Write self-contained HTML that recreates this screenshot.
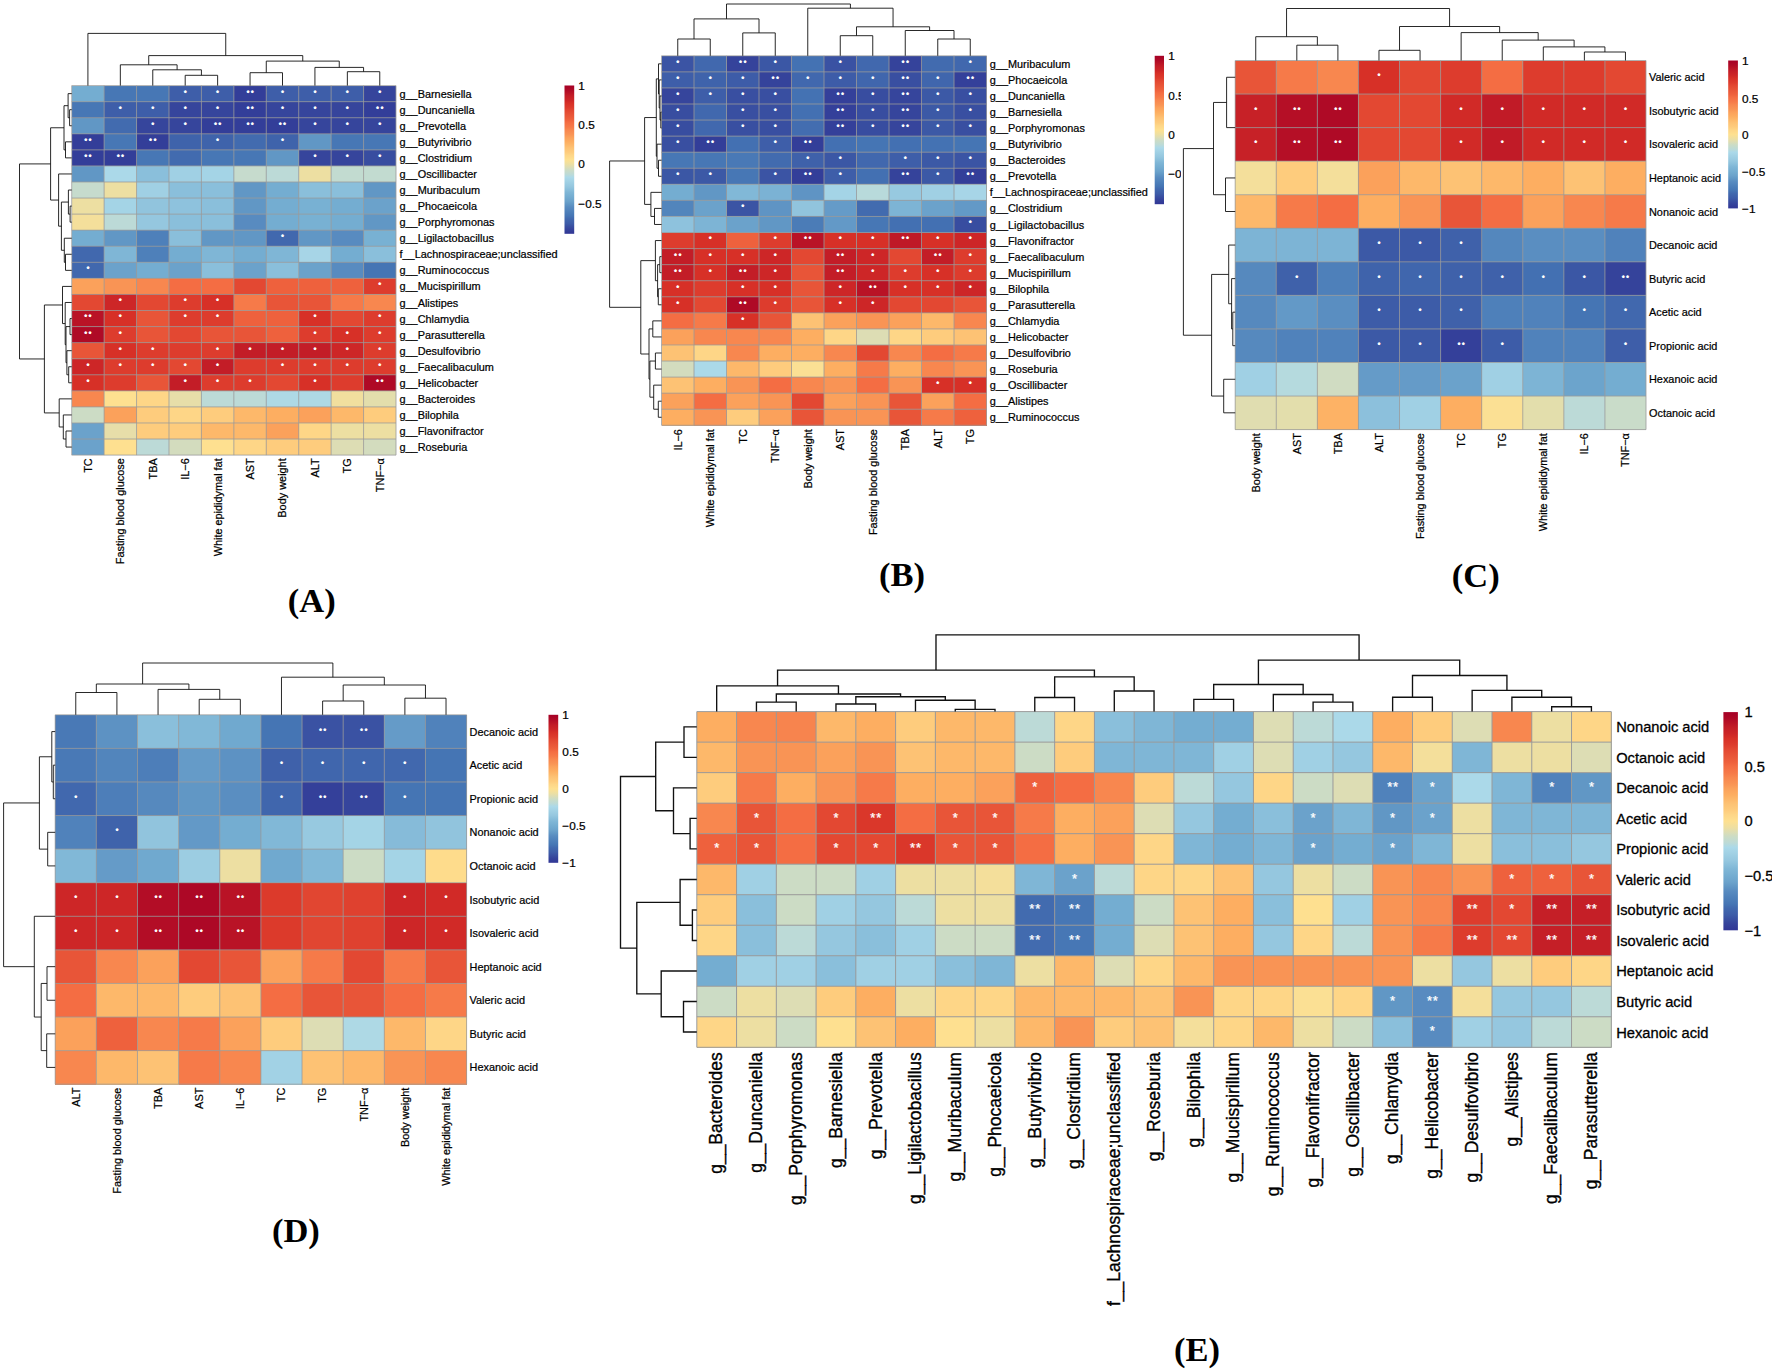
<!DOCTYPE html>
<html lang="en">
<head>
<meta charset="utf-8">
<title>Correlation heatmaps</title>
<style>
html,body{margin:0;padding:0;background:#fff;}
body{width:1772px;height:1371px;overflow:hidden;}
svg{display:block;}
</style>
</head>
<body>
<svg width="1772" height="1371" viewBox="0 0 1772 1371">
<rect width="1772" height="1371" fill="#fff"/>
<g shape-rendering="crispEdges">
<rect x="71.7" y="85.6" width="32.73" height="16.37" fill="#74add1"/>
<rect x="104.13" y="85.6" width="32.73" height="16.37" fill="#4777b5"/>
<rect x="136.56" y="85.6" width="32.73" height="16.37" fill="#4777b5"/>
<rect x="168.99" y="85.6" width="32.73" height="16.37" fill="#3e5ea9"/>
<rect x="201.42" y="85.6" width="32.73" height="16.37" fill="#3e5ea9"/>
<rect x="233.85" y="85.6" width="32.73" height="16.37" fill="#333e99"/>
<rect x="266.28" y="85.6" width="32.73" height="16.37" fill="#3e5ea9"/>
<rect x="298.71" y="85.6" width="32.73" height="16.37" fill="#3e5ea9"/>
<rect x="331.14" y="85.6" width="32.73" height="16.37" fill="#3e5ea9"/>
<rect x="363.57" y="85.6" width="32.73" height="16.37" fill="#36459c"/>
<rect x="71.7" y="101.67" width="32.73" height="16.37" fill="#4777b5"/>
<rect x="104.13" y="101.67" width="32.73" height="16.37" fill="#3e5ea9"/>
<rect x="136.56" y="101.67" width="32.73" height="16.37" fill="#3e5ea9"/>
<rect x="168.99" y="101.67" width="32.73" height="16.37" fill="#36459c"/>
<rect x="201.42" y="101.67" width="32.73" height="16.37" fill="#36459c"/>
<rect x="233.85" y="101.67" width="32.73" height="16.37" fill="#333e99"/>
<rect x="266.28" y="101.67" width="32.73" height="16.37" fill="#36459c"/>
<rect x="298.71" y="101.67" width="32.73" height="16.37" fill="#36459c"/>
<rect x="331.14" y="101.67" width="32.73" height="16.37" fill="#36459c"/>
<rect x="363.57" y="101.67" width="32.73" height="16.37" fill="#333e99"/>
<rect x="71.7" y="117.73" width="32.73" height="16.37" fill="#6197c5"/>
<rect x="104.13" y="117.73" width="32.73" height="16.37" fill="#426baf"/>
<rect x="136.56" y="117.73" width="32.73" height="16.37" fill="#36459c"/>
<rect x="168.99" y="117.73" width="32.73" height="16.37" fill="#36459c"/>
<rect x="201.42" y="117.73" width="32.73" height="16.37" fill="#333e99"/>
<rect x="233.85" y="117.73" width="32.73" height="16.37" fill="#333e99"/>
<rect x="266.28" y="117.73" width="32.73" height="16.37" fill="#333e99"/>
<rect x="298.71" y="117.73" width="32.73" height="16.37" fill="#36459c"/>
<rect x="331.14" y="117.73" width="32.73" height="16.37" fill="#36459c"/>
<rect x="363.57" y="117.73" width="32.73" height="16.37" fill="#36459c"/>
<rect x="71.7" y="133.8" width="32.73" height="16.37" fill="#333e99"/>
<rect x="104.13" y="133.8" width="32.73" height="16.37" fill="#4777b5"/>
<rect x="136.56" y="133.8" width="32.73" height="16.37" fill="#333e99"/>
<rect x="168.99" y="133.8" width="32.73" height="16.37" fill="#3f63ab"/>
<rect x="201.42" y="133.8" width="32.73" height="16.37" fill="#3f63ab"/>
<rect x="233.85" y="133.8" width="32.73" height="16.37" fill="#426baf"/>
<rect x="266.28" y="133.8" width="32.73" height="16.37" fill="#3f63ab"/>
<rect x="298.71" y="133.8" width="32.73" height="16.37" fill="#6197c5"/>
<rect x="331.14" y="133.8" width="32.73" height="16.37" fill="#4777b5"/>
<rect x="363.57" y="133.8" width="32.73" height="16.37" fill="#4777b5"/>
<rect x="71.7" y="149.86" width="32.73" height="16.37" fill="#333e99"/>
<rect x="104.13" y="149.86" width="32.73" height="16.37" fill="#333e99"/>
<rect x="136.56" y="149.86" width="32.73" height="16.37" fill="#4777b5"/>
<rect x="168.99" y="149.86" width="32.73" height="16.37" fill="#426baf"/>
<rect x="201.42" y="149.86" width="32.73" height="16.37" fill="#4777b5"/>
<rect x="233.85" y="149.86" width="32.73" height="16.37" fill="#4777b5"/>
<rect x="266.28" y="149.86" width="32.73" height="16.37" fill="#6197c5"/>
<rect x="298.71" y="149.86" width="32.73" height="16.37" fill="#36459c"/>
<rect x="331.14" y="149.86" width="32.73" height="16.37" fill="#36459c"/>
<rect x="363.57" y="149.86" width="32.73" height="16.37" fill="#384da0"/>
<rect x="71.7" y="165.93" width="32.73" height="16.37" fill="#6197c5"/>
<rect x="104.13" y="165.93" width="32.73" height="16.37" fill="#abd9e9"/>
<rect x="136.56" y="165.93" width="32.73" height="16.37" fill="#8abfdb"/>
<rect x="168.99" y="165.93" width="32.73" height="16.37" fill="#a0d0e4"/>
<rect x="201.42" y="165.93" width="32.73" height="16.37" fill="#a4d4e6"/>
<rect x="233.85" y="165.93" width="32.73" height="16.37" fill="#c6dbcd"/>
<rect x="266.28" y="165.93" width="32.73" height="16.37" fill="#bcdad7"/>
<rect x="298.71" y="165.93" width="32.73" height="16.37" fill="#eddfa2"/>
<rect x="331.14" y="165.93" width="32.73" height="16.37" fill="#c2dbd0"/>
<rect x="363.57" y="165.93" width="32.73" height="16.37" fill="#c2dbd0"/>
<rect x="71.7" y="181.99" width="32.73" height="16.37" fill="#c6dbcd"/>
<rect x="104.13" y="181.99" width="32.73" height="16.37" fill="#eddfa2"/>
<rect x="136.56" y="181.99" width="32.73" height="16.37" fill="#a0d0e4"/>
<rect x="168.99" y="181.99" width="32.73" height="16.37" fill="#8abfdb"/>
<rect x="201.42" y="181.99" width="32.73" height="16.37" fill="#8abfdb"/>
<rect x="233.85" y="181.99" width="32.73" height="16.37" fill="#6197c5"/>
<rect x="266.28" y="181.99" width="32.73" height="16.37" fill="#74add1"/>
<rect x="298.71" y="181.99" width="32.73" height="16.37" fill="#8abfdb"/>
<rect x="331.14" y="181.99" width="32.73" height="16.37" fill="#8abfdb"/>
<rect x="363.57" y="181.99" width="32.73" height="16.37" fill="#6197c5"/>
<rect x="71.7" y="198.06" width="32.73" height="16.37" fill="#eddfa2"/>
<rect x="104.13" y="198.06" width="32.73" height="16.37" fill="#a4d4e6"/>
<rect x="136.56" y="198.06" width="32.73" height="16.37" fill="#91c4dd"/>
<rect x="168.99" y="198.06" width="32.73" height="16.37" fill="#8ec2dd"/>
<rect x="201.42" y="198.06" width="32.73" height="16.37" fill="#8abfdb"/>
<rect x="233.85" y="198.06" width="32.73" height="16.37" fill="#6197c5"/>
<rect x="266.28" y="198.06" width="32.73" height="16.37" fill="#74add1"/>
<rect x="298.71" y="198.06" width="32.73" height="16.37" fill="#78b1d3"/>
<rect x="331.14" y="198.06" width="32.73" height="16.37" fill="#74add1"/>
<rect x="363.57" y="198.06" width="32.73" height="16.37" fill="#6ba2cb"/>
<rect x="71.7" y="214.12" width="32.73" height="16.37" fill="#f4df9b"/>
<rect x="104.13" y="214.12" width="32.73" height="16.37" fill="#bcdad7"/>
<rect x="136.56" y="214.12" width="32.73" height="16.37" fill="#95c7df"/>
<rect x="168.99" y="214.12" width="32.73" height="16.37" fill="#8abfdb"/>
<rect x="201.42" y="214.12" width="32.73" height="16.37" fill="#8abfdb"/>
<rect x="233.85" y="214.12" width="32.73" height="16.37" fill="#588bc0"/>
<rect x="266.28" y="214.12" width="32.73" height="16.37" fill="#74add1"/>
<rect x="298.71" y="214.12" width="32.73" height="16.37" fill="#78b1d3"/>
<rect x="331.14" y="214.12" width="32.73" height="16.37" fill="#74add1"/>
<rect x="363.57" y="214.12" width="32.73" height="16.37" fill="#6197c5"/>
<rect x="71.7" y="230.19" width="32.73" height="16.37" fill="#74add1"/>
<rect x="104.13" y="230.19" width="32.73" height="16.37" fill="#6197c5"/>
<rect x="136.56" y="230.19" width="32.73" height="16.37" fill="#4e80ba"/>
<rect x="168.99" y="230.19" width="32.73" height="16.37" fill="#8abfdb"/>
<rect x="201.42" y="230.19" width="32.73" height="16.37" fill="#6197c5"/>
<rect x="233.85" y="230.19" width="32.73" height="16.37" fill="#6197c5"/>
<rect x="266.28" y="230.19" width="32.73" height="16.37" fill="#4168ae"/>
<rect x="298.71" y="230.19" width="32.73" height="16.37" fill="#6197c5"/>
<rect x="331.14" y="230.19" width="32.73" height="16.37" fill="#588bc0"/>
<rect x="363.57" y="230.19" width="32.73" height="16.37" fill="#78b1d3"/>
<rect x="71.7" y="246.25" width="32.73" height="16.37" fill="#4168ae"/>
<rect x="104.13" y="246.25" width="32.73" height="16.37" fill="#7fb6d6"/>
<rect x="136.56" y="246.25" width="32.73" height="16.37" fill="#4e80ba"/>
<rect x="168.99" y="246.25" width="32.73" height="16.37" fill="#74add1"/>
<rect x="201.42" y="246.25" width="32.73" height="16.37" fill="#7fb6d6"/>
<rect x="233.85" y="246.25" width="32.73" height="16.37" fill="#74add1"/>
<rect x="266.28" y="246.25" width="32.73" height="16.37" fill="#7fb6d6"/>
<rect x="298.71" y="246.25" width="32.73" height="16.37" fill="#a7d5e7"/>
<rect x="331.14" y="246.25" width="32.73" height="16.37" fill="#74add1"/>
<rect x="363.57" y="246.25" width="32.73" height="16.37" fill="#8abfdb"/>
<rect x="71.7" y="262.32" width="32.73" height="16.37" fill="#4168ae"/>
<rect x="104.13" y="262.32" width="32.73" height="16.37" fill="#6ba2cb"/>
<rect x="136.56" y="262.32" width="32.73" height="16.37" fill="#74add1"/>
<rect x="168.99" y="262.32" width="32.73" height="16.37" fill="#6ba2cb"/>
<rect x="201.42" y="262.32" width="32.73" height="16.37" fill="#8abfdb"/>
<rect x="233.85" y="262.32" width="32.73" height="16.37" fill="#6ba2cb"/>
<rect x="266.28" y="262.32" width="32.73" height="16.37" fill="#8abfdb"/>
<rect x="298.71" y="262.32" width="32.73" height="16.37" fill="#6ba2cb"/>
<rect x="331.14" y="262.32" width="32.73" height="16.37" fill="#588bc0"/>
<rect x="363.57" y="262.32" width="32.73" height="16.37" fill="#4575b4"/>
<rect x="71.7" y="278.38" width="32.73" height="16.37" fill="#fba15b"/>
<rect x="104.13" y="278.38" width="32.73" height="16.37" fill="#f99455"/>
<rect x="136.56" y="278.38" width="32.73" height="16.37" fill="#f8874f"/>
<rect x="168.99" y="278.38" width="32.73" height="16.37" fill="#f46d43"/>
<rect x="201.42" y="278.38" width="32.73" height="16.37" fill="#f46d43"/>
<rect x="233.85" y="278.38" width="32.73" height="16.37" fill="#e34832"/>
<rect x="266.28" y="278.38" width="32.73" height="16.37" fill="#ee613d"/>
<rect x="298.71" y="278.38" width="32.73" height="16.37" fill="#ee613d"/>
<rect x="331.14" y="278.38" width="32.73" height="16.37" fill="#ee613d"/>
<rect x="363.57" y="278.38" width="32.73" height="16.37" fill="#dd3c2d"/>
<rect x="71.7" y="294.45" width="32.73" height="16.37" fill="#e34832"/>
<rect x="104.13" y="294.45" width="32.73" height="16.37" fill="#cd2627"/>
<rect x="136.56" y="294.45" width="32.73" height="16.37" fill="#e34832"/>
<rect x="168.99" y="294.45" width="32.73" height="16.37" fill="#dd3c2d"/>
<rect x="201.42" y="294.45" width="32.73" height="16.37" fill="#d73027"/>
<rect x="233.85" y="294.45" width="32.73" height="16.37" fill="#f67a49"/>
<rect x="266.28" y="294.45" width="32.73" height="16.37" fill="#e85538"/>
<rect x="298.71" y="294.45" width="32.73" height="16.37" fill="#e85538"/>
<rect x="331.14" y="294.45" width="32.73" height="16.37" fill="#f67a49"/>
<rect x="363.57" y="294.45" width="32.73" height="16.37" fill="#f8874f"/>
<rect x="71.7" y="310.51" width="32.73" height="16.37" fill="#b91326"/>
<rect x="104.13" y="310.51" width="32.73" height="16.37" fill="#d73027"/>
<rect x="136.56" y="310.51" width="32.73" height="16.37" fill="#e85538"/>
<rect x="168.99" y="310.51" width="32.73" height="16.37" fill="#dd3c2d"/>
<rect x="201.42" y="310.51" width="32.73" height="16.37" fill="#dd3c2d"/>
<rect x="233.85" y="310.51" width="32.73" height="16.37" fill="#ee613d"/>
<rect x="266.28" y="310.51" width="32.73" height="16.37" fill="#ee613d"/>
<rect x="298.71" y="310.51" width="32.73" height="16.37" fill="#d73027"/>
<rect x="331.14" y="310.51" width="32.73" height="16.37" fill="#e34832"/>
<rect x="363.57" y="310.51" width="32.73" height="16.37" fill="#dd3c2d"/>
<rect x="71.7" y="326.58" width="32.73" height="16.37" fill="#af0a26"/>
<rect x="104.13" y="326.58" width="32.73" height="16.37" fill="#dd3c2d"/>
<rect x="136.56" y="326.58" width="32.73" height="16.37" fill="#e85538"/>
<rect x="168.99" y="326.58" width="32.73" height="16.37" fill="#e34832"/>
<rect x="201.42" y="326.58" width="32.73" height="16.37" fill="#e85538"/>
<rect x="233.85" y="326.58" width="32.73" height="16.37" fill="#e85538"/>
<rect x="266.28" y="326.58" width="32.73" height="16.37" fill="#ee613d"/>
<rect x="298.71" y="326.58" width="32.73" height="16.37" fill="#dd3c2d"/>
<rect x="331.14" y="326.58" width="32.73" height="16.37" fill="#d73027"/>
<rect x="363.57" y="326.58" width="32.73" height="16.37" fill="#dd3c2d"/>
<rect x="71.7" y="342.64" width="32.73" height="16.37" fill="#e85538"/>
<rect x="104.13" y="342.64" width="32.73" height="16.37" fill="#d73027"/>
<rect x="136.56" y="342.64" width="32.73" height="16.37" fill="#dd3c2d"/>
<rect x="168.99" y="342.64" width="32.73" height="16.37" fill="#dd3c2d"/>
<rect x="201.42" y="342.64" width="32.73" height="16.37" fill="#dd3c2d"/>
<rect x="233.85" y="342.64" width="32.73" height="16.37" fill="#c31d27"/>
<rect x="266.28" y="342.64" width="32.73" height="16.37" fill="#c31d27"/>
<rect x="298.71" y="342.64" width="32.73" height="16.37" fill="#c31d27"/>
<rect x="331.14" y="342.64" width="32.73" height="16.37" fill="#cd2627"/>
<rect x="363.57" y="342.64" width="32.73" height="16.37" fill="#dd3c2d"/>
<rect x="71.7" y="358.71" width="32.73" height="16.37" fill="#cd2627"/>
<rect x="104.13" y="358.71" width="32.73" height="16.37" fill="#dd3c2d"/>
<rect x="136.56" y="358.71" width="32.73" height="16.37" fill="#dd3c2d"/>
<rect x="168.99" y="358.71" width="32.73" height="16.37" fill="#e34832"/>
<rect x="201.42" y="358.71" width="32.73" height="16.37" fill="#c31d27"/>
<rect x="233.85" y="358.71" width="32.73" height="16.37" fill="#dd3c2d"/>
<rect x="266.28" y="358.71" width="32.73" height="16.37" fill="#dd3c2d"/>
<rect x="298.71" y="358.71" width="32.73" height="16.37" fill="#dd3c2d"/>
<rect x="331.14" y="358.71" width="32.73" height="16.37" fill="#dd3c2d"/>
<rect x="363.57" y="358.71" width="32.73" height="16.37" fill="#dd3c2d"/>
<rect x="71.7" y="374.77" width="32.73" height="16.37" fill="#d73027"/>
<rect x="104.13" y="374.77" width="32.73" height="16.37" fill="#dd3c2d"/>
<rect x="136.56" y="374.77" width="32.73" height="16.37" fill="#e85538"/>
<rect x="168.99" y="374.77" width="32.73" height="16.37" fill="#c31d27"/>
<rect x="201.42" y="374.77" width="32.73" height="16.37" fill="#dd3c2d"/>
<rect x="233.85" y="374.77" width="32.73" height="16.37" fill="#dd3c2d"/>
<rect x="266.28" y="374.77" width="32.73" height="16.37" fill="#e34832"/>
<rect x="298.71" y="374.77" width="32.73" height="16.37" fill="#d73027"/>
<rect x="331.14" y="374.77" width="32.73" height="16.37" fill="#dd3c2d"/>
<rect x="363.57" y="374.77" width="32.73" height="16.37" fill="#af0a26"/>
<rect x="71.7" y="390.84" width="32.73" height="16.37" fill="#f8874f"/>
<rect x="104.13" y="390.84" width="32.73" height="16.37" fill="#fee090"/>
<rect x="136.56" y="390.84" width="32.73" height="16.37" fill="#fed687"/>
<rect x="168.99" y="390.84" width="32.73" height="16.37" fill="#e7dea9"/>
<rect x="201.42" y="390.84" width="32.73" height="16.37" fill="#bcdad7"/>
<rect x="233.85" y="390.84" width="32.73" height="16.37" fill="#bcdad7"/>
<rect x="266.28" y="390.84" width="32.73" height="16.37" fill="#aed9e5"/>
<rect x="298.71" y="390.84" width="32.73" height="16.37" fill="#aed9e5"/>
<rect x="331.14" y="390.84" width="32.73" height="16.37" fill="#f1df9e"/>
<rect x="363.57" y="390.84" width="32.73" height="16.37" fill="#e3deac"/>
<rect x="71.7" y="406.9" width="32.73" height="16.37" fill="#ccdcc5"/>
<rect x="104.13" y="406.9" width="32.73" height="16.37" fill="#fba15b"/>
<rect x="136.56" y="406.9" width="32.73" height="16.37" fill="#fecc7d"/>
<rect x="168.99" y="406.9" width="32.73" height="16.37" fill="#fed687"/>
<rect x="201.42" y="406.9" width="32.73" height="16.37" fill="#fecc7d"/>
<rect x="233.85" y="406.9" width="32.73" height="16.37" fill="#fdb86a"/>
<rect x="266.28" y="406.9" width="32.73" height="16.37" fill="#fdae61"/>
<rect x="298.71" y="406.9" width="32.73" height="16.37" fill="#fba15b"/>
<rect x="331.14" y="406.9" width="32.73" height="16.37" fill="#fdb86a"/>
<rect x="363.57" y="406.9" width="32.73" height="16.37" fill="#fecc7d"/>
<rect x="71.7" y="422.97" width="32.73" height="16.37" fill="#6ba2cb"/>
<rect x="104.13" y="422.97" width="32.73" height="16.37" fill="#e7dea9"/>
<rect x="136.56" y="422.97" width="32.73" height="16.37" fill="#fecc7d"/>
<rect x="168.99" y="422.97" width="32.73" height="16.37" fill="#fecc7d"/>
<rect x="201.42" y="422.97" width="32.73" height="16.37" fill="#fdb86a"/>
<rect x="233.85" y="422.97" width="32.73" height="16.37" fill="#fdb86a"/>
<rect x="266.28" y="422.97" width="32.73" height="16.37" fill="#fba15b"/>
<rect x="298.71" y="422.97" width="32.73" height="16.37" fill="#fed687"/>
<rect x="331.14" y="422.97" width="32.73" height="16.37" fill="#eddfa2"/>
<rect x="363.57" y="422.97" width="32.73" height="16.37" fill="#eddfa2"/>
<rect x="71.7" y="439.03" width="32.73" height="16.37" fill="#6ba2cb"/>
<rect x="104.13" y="439.03" width="32.73" height="16.37" fill="#fee090"/>
<rect x="136.56" y="439.03" width="32.73" height="16.37" fill="#bcdad7"/>
<rect x="168.99" y="439.03" width="32.73" height="16.37" fill="#d3dcbe"/>
<rect x="201.42" y="439.03" width="32.73" height="16.37" fill="#fee090"/>
<rect x="233.85" y="439.03" width="32.73" height="16.37" fill="#fed687"/>
<rect x="266.28" y="439.03" width="32.73" height="16.37" fill="#fecc7d"/>
<rect x="298.71" y="439.03" width="32.73" height="16.37" fill="#fecc7d"/>
<rect x="331.14" y="439.03" width="32.73" height="16.37" fill="#ddddb4"/>
<rect x="363.57" y="439.03" width="32.73" height="16.37" fill="#d3dcbe"/>
</g>
<path d="M71.7 85.6H396M71.7 101.67H396M71.7 117.73H396M71.7 133.8H396M71.7 149.86H396M71.7 165.93H396M71.7 181.99H396M71.7 198.06H396M71.7 214.12H396M71.7 230.19H396M71.7 246.25H396M71.7 262.32H396M71.7 278.38H396M71.7 294.45H396M71.7 310.51H396M71.7 326.58H396M71.7 342.64H396M71.7 358.71H396M71.7 374.77H396M71.7 390.84H396M71.7 406.9H396M71.7 422.97H396M71.7 439.03H396M71.7 455.1H396M71.7 85.6V455.1M104.13 85.6V455.1M136.56 85.6V455.1M168.99 85.6V455.1M201.42 85.6V455.1M233.85 85.6V455.1M266.28 85.6V455.1M298.71 85.6V455.1M331.14 85.6V455.1M363.57 85.6V455.1M396 85.6V455.1" fill="none" stroke="#9a9a9a" stroke-width="0.8"/>
<g fill="#fff" stroke="#fff" stroke-width="0.6" font-family='"Liberation Sans", sans-serif' font-size="6.5" letter-spacing="1.77" text-anchor="middle" stroke-linejoin="round" text-rendering="geometricPrecision">
<text x="186.09" y="94.56">*</text>
<text x="218.52" y="94.56">*</text>
<text x="250.95" y="94.56">**</text>
<text x="283.38" y="94.56">*</text>
<text x="315.81" y="94.56">*</text>
<text x="348.24" y="94.56">*</text>
<text x="380.67" y="94.56">*</text>
<text x="121.23" y="110.63">*</text>
<text x="153.66" y="110.63">*</text>
<text x="186.09" y="110.63">*</text>
<text x="218.52" y="110.63">*</text>
<text x="250.95" y="110.63">**</text>
<text x="283.38" y="110.63">*</text>
<text x="315.81" y="110.63">*</text>
<text x="348.24" y="110.63">*</text>
<text x="380.67" y="110.63">**</text>
<text x="153.66" y="126.69">*</text>
<text x="186.09" y="126.69">*</text>
<text x="218.52" y="126.69">**</text>
<text x="250.95" y="126.69">**</text>
<text x="283.38" y="126.69">**</text>
<text x="315.81" y="126.69">*</text>
<text x="348.24" y="126.69">*</text>
<text x="380.67" y="126.69">*</text>
<text x="88.8" y="142.76">**</text>
<text x="153.66" y="142.76">**</text>
<text x="218.52" y="142.76">*</text>
<text x="283.38" y="142.76">*</text>
<text x="88.8" y="158.82">**</text>
<text x="121.23" y="158.82">**</text>
<text x="315.81" y="158.82">*</text>
<text x="348.24" y="158.82">*</text>
<text x="380.67" y="158.82">*</text>
<text x="283.38" y="239.15">*</text>
<text x="88.8" y="271.28">*</text>
<text x="380.67" y="287.35">*</text>
<text x="121.23" y="303.41">*</text>
<text x="186.09" y="303.41">*</text>
<text x="218.52" y="303.41">*</text>
<text x="88.8" y="319.48">**</text>
<text x="121.23" y="319.48">*</text>
<text x="186.09" y="319.48">*</text>
<text x="218.52" y="319.48">*</text>
<text x="315.81" y="319.48">*</text>
<text x="380.67" y="319.48">*</text>
<text x="88.8" y="335.54">**</text>
<text x="121.23" y="335.54">*</text>
<text x="315.81" y="335.54">*</text>
<text x="348.24" y="335.54">*</text>
<text x="380.67" y="335.54">*</text>
<text x="121.23" y="351.61">*</text>
<text x="153.66" y="351.61">*</text>
<text x="218.52" y="351.61">*</text>
<text x="250.95" y="351.61">*</text>
<text x="283.38" y="351.61">*</text>
<text x="315.81" y="351.61">*</text>
<text x="348.24" y="351.61">*</text>
<text x="380.67" y="351.61">*</text>
<text x="88.8" y="367.67">*</text>
<text x="121.23" y="367.67">*</text>
<text x="153.66" y="367.67">*</text>
<text x="186.09" y="367.67">*</text>
<text x="218.52" y="367.67">*</text>
<text x="283.38" y="367.67">*</text>
<text x="315.81" y="367.67">*</text>
<text x="348.24" y="367.67">*</text>
<text x="380.67" y="367.67">*</text>
<text x="88.8" y="383.74">*</text>
<text x="186.09" y="383.74">*</text>
<text x="218.52" y="383.74">*</text>
<text x="250.95" y="383.74">*</text>
<text x="315.81" y="383.74">*</text>
<text x="380.67" y="383.74">**</text>
</g>
<path d="M185.2 85.6V75.3H217.63V85.6M152.78 85.6V69.8H201.42V75.3M120.34 85.6V64.8H177.1V69.8M250.06 85.6V72.7H282.5V85.6M347.35 85.6V71.7H379.78V85.6M314.93 85.6V67.4H363.57V71.7M266.28 72.7V61.1H339.25V67.4M148.72 64.8V55.6H302.76V61.1M87.92 85.6V33.4H225.74V55.6" fill="none" stroke="#111" stroke-width="0.9" stroke-linejoin="miter"/>
<path d="M71.7 109.7H69.6V125.76H71.7M71.7 93.63H68.1V117.73H69.6M71.7 141.83H65.5V157.89H71.7M68.1 105.68H64V149.86H65.5M71.7 206.09H70.1V222.15H71.7M71.7 190.02H68.4V214.12H70.1M71.7 254.28H65.5V270.35H71.7M71.7 238.22H64.3V262.32H65.5M68.4 202.07H61.4V250.27H64.3M71.7 173.96H58.6V226.17H61.4M64 127.77H50.6V200.06H58.6M71.7 318.55H70V334.61H71.7M71.7 366.74H68.7V382.81H71.7M71.7 350.68H66.9V374.77H68.7M70 326.58H66V362.73H66.9M71.7 302.48H65.2V344.65H66M71.7 286.42H62.5V323.57H65.2M71.7 431H66V447.07H71.7M71.7 414.94H63.3V439.03H66M71.7 398.87H59.2V426.99H63.3M62.5 304.99H44.4V412.93H59.2M50.6 163.92H19.5V358.96H44.4" fill="none" stroke="#111" stroke-width="0.9" stroke-linejoin="miter"/>
<g font-family='"Liberation Sans", sans-serif' font-size="10.9" fill="#000" stroke="#000" stroke-width="0.22">
<text x="399.5" y="97.69">g__Barnesiella</text>
<text x="399.5" y="113.75">g__Duncaniella</text>
<text x="399.5" y="129.82">g__Prevotella</text>
<text x="399.5" y="145.88">g__Butyrivibrio</text>
<text x="399.5" y="161.95">g__Clostridium</text>
<text x="399.5" y="178.01">g__Oscillibacter</text>
<text x="399.5" y="194.08">g__Muribaculum</text>
<text x="399.5" y="210.14">g__Phocaeicola</text>
<text x="399.5" y="226.21">g__Porphyromonas</text>
<text x="399.5" y="242.27">g__Ligilactobacillus</text>
<text x="399.5" y="258.34">f__Lachnospiraceae;unclassified</text>
<text x="399.5" y="274.4">g__Ruminococcus</text>
<text x="399.5" y="290.47">g__Mucispirillum</text>
<text x="399.5" y="306.54">g__Alistipes</text>
<text x="399.5" y="322.6">g__Chlamydia</text>
<text x="399.5" y="338.67">g__Parasutterella</text>
<text x="399.5" y="354.73">g__Desulfovibrio</text>
<text x="399.5" y="370.8">g__Faecalibaculum</text>
<text x="399.5" y="386.86">g__Helicobacter</text>
<text x="399.5" y="402.93">g__Bacteroides</text>
<text x="399.5" y="418.99">g__Bilophila</text>
<text x="399.5" y="435.06">g__Flavonifractor</text>
<text x="399.5" y="451.12">g__Roseburia</text>
</g>
<g font-family='"Liberation Sans", sans-serif' font-size="10.9" fill="#000" stroke="#000" stroke-width="0.22" text-anchor="end">
<text transform="translate(91.78 458.3) rotate(-90)">TC</text>
<text transform="translate(124.21 458.3) rotate(-90)">Fasting blood glucose</text>
<text transform="translate(156.64 458.3) rotate(-90)">TBA</text>
<text transform="translate(189.07 458.3) rotate(-90)">IL−6</text>
<text transform="translate(221.5 458.3) rotate(-90)">White epididymal fat</text>
<text transform="translate(253.93 458.3) rotate(-90)">AST</text>
<text transform="translate(286.36 458.3) rotate(-90)">Body weight</text>
<text transform="translate(318.79 458.3) rotate(-90)">ALT</text>
<text transform="translate(351.22 458.3) rotate(-90)">TG</text>
<text transform="translate(383.65 458.3) rotate(-90)">TNF−α</text>
</g>
<linearGradient id="lgA" x1="0" y1="0" x2="0" y2="1">
<stop offset="0" stop-color="#a50026"/>
<stop offset="0.03" stop-color="#af0a26"/>
<stop offset="0.05" stop-color="#b91326"/>
<stop offset="0.07" stop-color="#c31d27"/>
<stop offset="0.1" stop-color="#cd2627"/>
<stop offset="0.12" stop-color="#d73027"/>
<stop offset="0.15" stop-color="#dd3c2d"/>
<stop offset="0.17" stop-color="#e34832"/>
<stop offset="0.2" stop-color="#e85538"/>
<stop offset="0.23" stop-color="#ee613d"/>
<stop offset="0.25" stop-color="#f46d43"/>
<stop offset="0.28" stop-color="#f67a49"/>
<stop offset="0.3" stop-color="#f8874f"/>
<stop offset="0.33" stop-color="#f99455"/>
<stop offset="0.35" stop-color="#fba15b"/>
<stop offset="0.38" stop-color="#fdae61"/>
<stop offset="0.4" stop-color="#fdb86a"/>
<stop offset="0.42" stop-color="#fdc274"/>
<stop offset="0.45" stop-color="#fecc7d"/>
<stop offset="0.47" stop-color="#fed687"/>
<stop offset="0.5" stop-color="#fee090"/>
<stop offset="0.53" stop-color="#eddfa2"/>
<stop offset="0.55" stop-color="#ddddb4"/>
<stop offset="0.57" stop-color="#ccdcc5"/>
<stop offset="0.6" stop-color="#bcdad7"/>
<stop offset="0.62" stop-color="#abd9e9"/>
<stop offset="0.65" stop-color="#a0d0e4"/>
<stop offset="0.68" stop-color="#95c7df"/>
<stop offset="0.7" stop-color="#8abfdb"/>
<stop offset="0.72" stop-color="#7fb6d6"/>
<stop offset="0.75" stop-color="#74add1"/>
<stop offset="0.78" stop-color="#6ba2cb"/>
<stop offset="0.8" stop-color="#6197c5"/>
<stop offset="0.82" stop-color="#588bc0"/>
<stop offset="0.85" stop-color="#4e80ba"/>
<stop offset="0.88" stop-color="#4575b4"/>
<stop offset="0.9" stop-color="#4168ae"/>
<stop offset="0.93" stop-color="#3d5ca8"/>
<stop offset="0.95" stop-color="#394fa1"/>
<stop offset="0.97" stop-color="#35439b"/>
<stop offset="1" stop-color="#313695"/>
</linearGradient>
<rect x="564.5" y="85.5" width="9.7" height="148.3" fill="url(#lgA)"/>
<g font-family='"Liberation Sans", sans-serif' font-size="11.8" fill="#000" stroke="#000" stroke-width="0.24">
<text x="578.34" y="89.99">1</text>
<text x="578.34" y="129.09">0.5</text>
<text x="578.34" y="168.39">0</text>
<text x="578.34" y="207.79">−0.5</text>
</g>
<text x="311.8" y="612.4" font-family='"Liberation Serif", serif' font-weight="bold" font-size="34.5" text-anchor="middle" fill="#000">(A)</text>
<g shape-rendering="crispEdges">
<rect x="661.5" y="55.8" width="32.8" height="16.37" fill="#3b54a4"/>
<rect x="694" y="55.8" width="32.8" height="16.37" fill="#4168ae"/>
<rect x="726.5" y="55.8" width="32.8" height="16.37" fill="#35439b"/>
<rect x="759" y="55.8" width="32.8" height="16.37" fill="#3b57a5"/>
<rect x="791.5" y="55.8" width="32.8" height="16.37" fill="#4472b3"/>
<rect x="824" y="55.8" width="32.8" height="16.37" fill="#3a52a3"/>
<rect x="856.5" y="55.8" width="32.8" height="16.37" fill="#4168ae"/>
<rect x="889" y="55.8" width="32.8" height="16.37" fill="#35439b"/>
<rect x="921.5" y="55.8" width="32.8" height="16.37" fill="#426baf"/>
<rect x="954" y="55.8" width="32.8" height="16.37" fill="#4168ae"/>
<rect x="661.5" y="71.87" width="32.8" height="16.37" fill="#3e5ea9"/>
<rect x="694" y="71.87" width="32.8" height="16.37" fill="#3f63ab"/>
<rect x="726.5" y="71.87" width="32.8" height="16.37" fill="#3d5ca8"/>
<rect x="759" y="71.87" width="32.8" height="16.37" fill="#35439b"/>
<rect x="791.5" y="71.87" width="32.8" height="16.37" fill="#4168ae"/>
<rect x="824" y="71.87" width="32.8" height="16.37" fill="#3d5ca8"/>
<rect x="856.5" y="71.87" width="32.8" height="16.37" fill="#4066ad"/>
<rect x="889" y="71.87" width="32.8" height="16.37" fill="#394fa1"/>
<rect x="921.5" y="71.87" width="32.8" height="16.37" fill="#4066ad"/>
<rect x="954" y="71.87" width="32.8" height="16.37" fill="#34409a"/>
<rect x="661.5" y="87.93" width="32.8" height="16.37" fill="#36459c"/>
<rect x="694" y="87.93" width="32.8" height="16.37" fill="#3e5ea9"/>
<rect x="726.5" y="87.93" width="32.8" height="16.37" fill="#394fa1"/>
<rect x="759" y="87.93" width="32.8" height="16.37" fill="#394fa1"/>
<rect x="791.5" y="87.93" width="32.8" height="16.37" fill="#4472b3"/>
<rect x="824" y="87.93" width="32.8" height="16.37" fill="#34409a"/>
<rect x="856.5" y="87.93" width="32.8" height="16.37" fill="#384da0"/>
<rect x="889" y="87.93" width="32.8" height="16.37" fill="#36459c"/>
<rect x="921.5" y="87.93" width="32.8" height="16.37" fill="#3c59a6"/>
<rect x="954" y="87.93" width="32.8" height="16.37" fill="#394fa1"/>
<rect x="661.5" y="104" width="32.8" height="16.37" fill="#384da0"/>
<rect x="694" y="104" width="32.8" height="16.37" fill="#4168ae"/>
<rect x="726.5" y="104" width="32.8" height="16.37" fill="#394fa1"/>
<rect x="759" y="104" width="32.8" height="16.37" fill="#394fa1"/>
<rect x="791.5" y="104" width="32.8" height="16.37" fill="#4370b2"/>
<rect x="824" y="104" width="32.8" height="16.37" fill="#34409a"/>
<rect x="856.5" y="104" width="32.8" height="16.37" fill="#384da0"/>
<rect x="889" y="104" width="32.8" height="16.37" fill="#36459c"/>
<rect x="921.5" y="104" width="32.8" height="16.37" fill="#3c59a6"/>
<rect x="954" y="104" width="32.8" height="16.37" fill="#394fa1"/>
<rect x="661.5" y="120.06" width="32.8" height="16.37" fill="#384da0"/>
<rect x="694" y="120.06" width="32.8" height="16.37" fill="#4168ae"/>
<rect x="726.5" y="120.06" width="32.8" height="16.37" fill="#394fa1"/>
<rect x="759" y="120.06" width="32.8" height="16.37" fill="#394fa1"/>
<rect x="791.5" y="120.06" width="32.8" height="16.37" fill="#436db0"/>
<rect x="824" y="120.06" width="32.8" height="16.37" fill="#34409a"/>
<rect x="856.5" y="120.06" width="32.8" height="16.37" fill="#384da0"/>
<rect x="889" y="120.06" width="32.8" height="16.37" fill="#36459c"/>
<rect x="921.5" y="120.06" width="32.8" height="16.37" fill="#3c59a6"/>
<rect x="954" y="120.06" width="32.8" height="16.37" fill="#394fa1"/>
<rect x="661.5" y="136.13" width="32.8" height="16.37" fill="#394fa1"/>
<rect x="694" y="136.13" width="32.8" height="16.37" fill="#333e99"/>
<rect x="726.5" y="136.13" width="32.8" height="16.37" fill="#4370b2"/>
<rect x="759" y="136.13" width="32.8" height="16.37" fill="#3e5ea9"/>
<rect x="791.5" y="136.13" width="32.8" height="16.37" fill="#333e99"/>
<rect x="824" y="136.13" width="32.8" height="16.37" fill="#4370b2"/>
<rect x="856.5" y="136.13" width="32.8" height="16.37" fill="#4575b4"/>
<rect x="889" y="136.13" width="32.8" height="16.37" fill="#4370b2"/>
<rect x="921.5" y="136.13" width="32.8" height="16.37" fill="#4472b3"/>
<rect x="954" y="136.13" width="32.8" height="16.37" fill="#4575b4"/>
<rect x="661.5" y="152.19" width="32.8" height="16.37" fill="#4777b5"/>
<rect x="694" y="152.19" width="32.8" height="16.37" fill="#4777b5"/>
<rect x="726.5" y="152.19" width="32.8" height="16.37" fill="#4979b6"/>
<rect x="759" y="152.19" width="32.8" height="16.37" fill="#426baf"/>
<rect x="791.5" y="152.19" width="32.8" height="16.37" fill="#3f61aa"/>
<rect x="824" y="152.19" width="32.8" height="16.37" fill="#3b57a5"/>
<rect x="856.5" y="152.19" width="32.8" height="16.37" fill="#4168ae"/>
<rect x="889" y="152.19" width="32.8" height="16.37" fill="#3e5ea9"/>
<rect x="921.5" y="152.19" width="32.8" height="16.37" fill="#3c59a6"/>
<rect x="954" y="152.19" width="32.8" height="16.37" fill="#3b54a4"/>
<rect x="661.5" y="168.26" width="32.8" height="16.37" fill="#3b57a5"/>
<rect x="694" y="168.26" width="32.8" height="16.37" fill="#3c59a6"/>
<rect x="726.5" y="168.26" width="32.8" height="16.37" fill="#4777b5"/>
<rect x="759" y="168.26" width="32.8" height="16.37" fill="#3b54a4"/>
<rect x="791.5" y="168.26" width="32.8" height="16.37" fill="#333e99"/>
<rect x="824" y="168.26" width="32.8" height="16.37" fill="#3e5ea9"/>
<rect x="856.5" y="168.26" width="32.8" height="16.37" fill="#4370b2"/>
<rect x="889" y="168.26" width="32.8" height="16.37" fill="#35439b"/>
<rect x="921.5" y="168.26" width="32.8" height="16.37" fill="#3c59a6"/>
<rect x="954" y="168.26" width="32.8" height="16.37" fill="#333e99"/>
<rect x="661.5" y="184.32" width="32.8" height="16.37" fill="#74add1"/>
<rect x="694" y="184.32" width="32.8" height="16.37" fill="#6197c5"/>
<rect x="726.5" y="184.32" width="32.8" height="16.37" fill="#81b8d7"/>
<rect x="759" y="184.32" width="32.8" height="16.37" fill="#7bb2d4"/>
<rect x="791.5" y="184.32" width="32.8" height="16.37" fill="#5f94c4"/>
<rect x="824" y="184.32" width="32.8" height="16.37" fill="#a4d4e6"/>
<rect x="856.5" y="184.32" width="32.8" height="16.37" fill="#b8dadb"/>
<rect x="889" y="184.32" width="32.8" height="16.37" fill="#97c9e0"/>
<rect x="921.5" y="184.32" width="32.8" height="16.37" fill="#a0d0e4"/>
<rect x="954" y="184.32" width="32.8" height="16.37" fill="#a7d5e7"/>
<rect x="661.5" y="200.39" width="32.8" height="16.37" fill="#5285bc"/>
<rect x="694" y="200.39" width="32.8" height="16.37" fill="#6ba2cb"/>
<rect x="726.5" y="200.39" width="32.8" height="16.37" fill="#3b54a4"/>
<rect x="759" y="200.39" width="32.8" height="16.37" fill="#5f94c4"/>
<rect x="791.5" y="200.39" width="32.8" height="16.37" fill="#91c4dd"/>
<rect x="824" y="200.39" width="32.8" height="16.37" fill="#659bc8"/>
<rect x="856.5" y="200.39" width="32.8" height="16.37" fill="#426baf"/>
<rect x="889" y="200.39" width="32.8" height="16.37" fill="#7db4d5"/>
<rect x="921.5" y="200.39" width="32.8" height="16.37" fill="#6ba2cb"/>
<rect x="954" y="200.39" width="32.8" height="16.37" fill="#6399c7"/>
<rect x="661.5" y="216.45" width="32.8" height="16.37" fill="#8ec2dd"/>
<rect x="694" y="216.45" width="32.8" height="16.37" fill="#7db4d5"/>
<rect x="726.5" y="216.45" width="32.8" height="16.37" fill="#6ba2cb"/>
<rect x="759" y="216.45" width="32.8" height="16.37" fill="#6197c5"/>
<rect x="791.5" y="216.45" width="32.8" height="16.37" fill="#4b7cb7"/>
<rect x="824" y="216.45" width="32.8" height="16.37" fill="#6399c7"/>
<rect x="856.5" y="216.45" width="32.8" height="16.37" fill="#4777b5"/>
<rect x="889" y="216.45" width="32.8" height="16.37" fill="#4370b2"/>
<rect x="921.5" y="216.45" width="32.8" height="16.37" fill="#4370b2"/>
<rect x="954" y="216.45" width="32.8" height="16.37" fill="#384da0"/>
<rect x="661.5" y="232.52" width="32.8" height="16.37" fill="#dd3c2d"/>
<rect x="694" y="232.52" width="32.8" height="16.37" fill="#d73027"/>
<rect x="726.5" y="232.52" width="32.8" height="16.37" fill="#ee613d"/>
<rect x="759" y="232.52" width="32.8" height="16.37" fill="#dd3c2d"/>
<rect x="791.5" y="232.52" width="32.8" height="16.37" fill="#b91326"/>
<rect x="824" y="232.52" width="32.8" height="16.37" fill="#d73027"/>
<rect x="856.5" y="232.52" width="32.8" height="16.37" fill="#d73027"/>
<rect x="889" y="232.52" width="32.8" height="16.37" fill="#bf1927"/>
<rect x="921.5" y="232.52" width="32.8" height="16.37" fill="#d73027"/>
<rect x="954" y="232.52" width="32.8" height="16.37" fill="#cd2627"/>
<rect x="661.5" y="248.58" width="32.8" height="16.37" fill="#c31d27"/>
<rect x="694" y="248.58" width="32.8" height="16.37" fill="#d73027"/>
<rect x="726.5" y="248.58" width="32.8" height="16.37" fill="#d73027"/>
<rect x="759" y="248.58" width="32.8" height="16.37" fill="#cd2627"/>
<rect x="791.5" y="248.58" width="32.8" height="16.37" fill="#e34832"/>
<rect x="824" y="248.58" width="32.8" height="16.37" fill="#c31d27"/>
<rect x="856.5" y="248.58" width="32.8" height="16.37" fill="#cd2627"/>
<rect x="889" y="248.58" width="32.8" height="16.37" fill="#e34832"/>
<rect x="921.5" y="248.58" width="32.8" height="16.37" fill="#c31d27"/>
<rect x="954" y="248.58" width="32.8" height="16.37" fill="#dd3c2d"/>
<rect x="661.5" y="264.65" width="32.8" height="16.37" fill="#c31d27"/>
<rect x="694" y="264.65" width="32.8" height="16.37" fill="#d73027"/>
<rect x="726.5" y="264.65" width="32.8" height="16.37" fill="#c31d27"/>
<rect x="759" y="264.65" width="32.8" height="16.37" fill="#cd2627"/>
<rect x="791.5" y="264.65" width="32.8" height="16.37" fill="#e85538"/>
<rect x="824" y="264.65" width="32.8" height="16.37" fill="#c31d27"/>
<rect x="856.5" y="264.65" width="32.8" height="16.37" fill="#cd2627"/>
<rect x="889" y="264.65" width="32.8" height="16.37" fill="#dd3c2d"/>
<rect x="921.5" y="264.65" width="32.8" height="16.37" fill="#d73027"/>
<rect x="954" y="264.65" width="32.8" height="16.37" fill="#dd3c2d"/>
<rect x="661.5" y="280.71" width="32.8" height="16.37" fill="#d73027"/>
<rect x="694" y="280.71" width="32.8" height="16.37" fill="#dd3c2d"/>
<rect x="726.5" y="280.71" width="32.8" height="16.37" fill="#d73027"/>
<rect x="759" y="280.71" width="32.8" height="16.37" fill="#d73027"/>
<rect x="791.5" y="280.71" width="32.8" height="16.37" fill="#e85538"/>
<rect x="824" y="280.71" width="32.8" height="16.37" fill="#cd2627"/>
<rect x="856.5" y="280.71" width="32.8" height="16.37" fill="#b91326"/>
<rect x="889" y="280.71" width="32.8" height="16.37" fill="#d73027"/>
<rect x="921.5" y="280.71" width="32.8" height="16.37" fill="#d73027"/>
<rect x="954" y="280.71" width="32.8" height="16.37" fill="#cd2627"/>
<rect x="661.5" y="296.78" width="32.8" height="16.37" fill="#d73027"/>
<rect x="694" y="296.78" width="32.8" height="16.37" fill="#e34832"/>
<rect x="726.5" y="296.78" width="32.8" height="16.37" fill="#af0a26"/>
<rect x="759" y="296.78" width="32.8" height="16.37" fill="#dd3c2d"/>
<rect x="791.5" y="296.78" width="32.8" height="16.37" fill="#e85538"/>
<rect x="824" y="296.78" width="32.8" height="16.37" fill="#d73027"/>
<rect x="856.5" y="296.78" width="32.8" height="16.37" fill="#cd2627"/>
<rect x="889" y="296.78" width="32.8" height="16.37" fill="#e34832"/>
<rect x="921.5" y="296.78" width="32.8" height="16.37" fill="#e34832"/>
<rect x="954" y="296.78" width="32.8" height="16.37" fill="#e85538"/>
<rect x="661.5" y="312.84" width="32.8" height="16.37" fill="#f46d43"/>
<rect x="694" y="312.84" width="32.8" height="16.37" fill="#f67a49"/>
<rect x="726.5" y="312.84" width="32.8" height="16.37" fill="#d73027"/>
<rect x="759" y="312.84" width="32.8" height="16.37" fill="#e85538"/>
<rect x="791.5" y="312.84" width="32.8" height="16.37" fill="#fdc274"/>
<rect x="824" y="312.84" width="32.8" height="16.37" fill="#fba15b"/>
<rect x="856.5" y="312.84" width="32.8" height="16.37" fill="#f99455"/>
<rect x="889" y="312.84" width="32.8" height="16.37" fill="#fba15b"/>
<rect x="921.5" y="312.84" width="32.8" height="16.37" fill="#fdb86a"/>
<rect x="954" y="312.84" width="32.8" height="16.37" fill="#f8874f"/>
<rect x="661.5" y="328.91" width="32.8" height="16.37" fill="#fba15b"/>
<rect x="694" y="328.91" width="32.8" height="16.37" fill="#f8874f"/>
<rect x="726.5" y="328.91" width="32.8" height="16.37" fill="#f8874f"/>
<rect x="759" y="328.91" width="32.8" height="16.37" fill="#f8874f"/>
<rect x="791.5" y="328.91" width="32.8" height="16.37" fill="#fdae61"/>
<rect x="824" y="328.91" width="32.8" height="16.37" fill="#fed687"/>
<rect x="856.5" y="328.91" width="32.8" height="16.37" fill="#ddddb4"/>
<rect x="889" y="328.91" width="32.8" height="16.37" fill="#fed687"/>
<rect x="921.5" y="328.91" width="32.8" height="16.37" fill="#fecc7d"/>
<rect x="954" y="328.91" width="32.8" height="16.37" fill="#fdc274"/>
<rect x="661.5" y="344.97" width="32.8" height="16.37" fill="#fdc274"/>
<rect x="694" y="344.97" width="32.8" height="16.37" fill="#fed687"/>
<rect x="726.5" y="344.97" width="32.8" height="16.37" fill="#f8874f"/>
<rect x="759" y="344.97" width="32.8" height="16.37" fill="#fdae61"/>
<rect x="791.5" y="344.97" width="32.8" height="16.37" fill="#fdae61"/>
<rect x="824" y="344.97" width="32.8" height="16.37" fill="#f8874f"/>
<rect x="856.5" y="344.97" width="32.8" height="16.37" fill="#e34832"/>
<rect x="889" y="344.97" width="32.8" height="16.37" fill="#f8874f"/>
<rect x="921.5" y="344.97" width="32.8" height="16.37" fill="#f46d43"/>
<rect x="954" y="344.97" width="32.8" height="16.37" fill="#f67a49"/>
<rect x="661.5" y="361.04" width="32.8" height="16.37" fill="#d3dcbe"/>
<rect x="694" y="361.04" width="32.8" height="16.37" fill="#abd9e9"/>
<rect x="726.5" y="361.04" width="32.8" height="16.37" fill="#fdb86a"/>
<rect x="759" y="361.04" width="32.8" height="16.37" fill="#fecc7d"/>
<rect x="791.5" y="361.04" width="32.8" height="16.37" fill="#fbe094"/>
<rect x="824" y="361.04" width="32.8" height="16.37" fill="#fdae61"/>
<rect x="856.5" y="361.04" width="32.8" height="16.37" fill="#f67a49"/>
<rect x="889" y="361.04" width="32.8" height="16.37" fill="#fdae61"/>
<rect x="921.5" y="361.04" width="32.8" height="16.37" fill="#f8874f"/>
<rect x="954" y="361.04" width="32.8" height="16.37" fill="#f99455"/>
<rect x="661.5" y="377.1" width="32.8" height="16.37" fill="#fdc274"/>
<rect x="694" y="377.1" width="32.8" height="16.37" fill="#fdae61"/>
<rect x="726.5" y="377.1" width="32.8" height="16.37" fill="#f99455"/>
<rect x="759" y="377.1" width="32.8" height="16.37" fill="#f46d43"/>
<rect x="791.5" y="377.1" width="32.8" height="16.37" fill="#f8874f"/>
<rect x="824" y="377.1" width="32.8" height="16.37" fill="#f99455"/>
<rect x="856.5" y="377.1" width="32.8" height="16.37" fill="#f46d43"/>
<rect x="889" y="377.1" width="32.8" height="16.37" fill="#f99455"/>
<rect x="921.5" y="377.1" width="32.8" height="16.37" fill="#d73027"/>
<rect x="954" y="377.1" width="32.8" height="16.37" fill="#d73027"/>
<rect x="661.5" y="393.17" width="32.8" height="16.37" fill="#fba15b"/>
<rect x="694" y="393.17" width="32.8" height="16.37" fill="#f46d43"/>
<rect x="726.5" y="393.17" width="32.8" height="16.37" fill="#fba15b"/>
<rect x="759" y="393.17" width="32.8" height="16.37" fill="#f99455"/>
<rect x="791.5" y="393.17" width="32.8" height="16.37" fill="#e34832"/>
<rect x="824" y="393.17" width="32.8" height="16.37" fill="#fba15b"/>
<rect x="856.5" y="393.17" width="32.8" height="16.37" fill="#f99455"/>
<rect x="889" y="393.17" width="32.8" height="16.37" fill="#e85538"/>
<rect x="921.5" y="393.17" width="32.8" height="16.37" fill="#fba15b"/>
<rect x="954" y="393.17" width="32.8" height="16.37" fill="#f46d43"/>
<rect x="661.5" y="409.23" width="32.8" height="16.37" fill="#fdae61"/>
<rect x="694" y="409.23" width="32.8" height="16.37" fill="#f99455"/>
<rect x="726.5" y="409.23" width="32.8" height="16.37" fill="#fecc7d"/>
<rect x="759" y="409.23" width="32.8" height="16.37" fill="#fba15b"/>
<rect x="791.5" y="409.23" width="32.8" height="16.37" fill="#e85538"/>
<rect x="824" y="409.23" width="32.8" height="16.37" fill="#f99455"/>
<rect x="856.5" y="409.23" width="32.8" height="16.37" fill="#f99455"/>
<rect x="889" y="409.23" width="32.8" height="16.37" fill="#e85538"/>
<rect x="921.5" y="409.23" width="32.8" height="16.37" fill="#f67a49"/>
<rect x="954" y="409.23" width="32.8" height="16.37" fill="#ee613d"/>
</g>
<path d="M661.5 55.8H986.5M661.5 71.87H986.5M661.5 87.93H986.5M661.5 104H986.5M661.5 120.06H986.5M661.5 136.13H986.5M661.5 152.19H986.5M661.5 168.26H986.5M661.5 184.32H986.5M661.5 200.39H986.5M661.5 216.45H986.5M661.5 232.52H986.5M661.5 248.58H986.5M661.5 264.65H986.5M661.5 280.71H986.5M661.5 296.78H986.5M661.5 312.84H986.5M661.5 328.91H986.5M661.5 344.97H986.5M661.5 361.04H986.5M661.5 377.1H986.5M661.5 393.17H986.5M661.5 409.23H986.5M661.5 425.3H986.5M661.5 55.8V425.3M694 55.8V425.3M726.5 55.8V425.3M759 55.8V425.3M791.5 55.8V425.3M824 55.8V425.3M856.5 55.8V425.3M889 55.8V425.3M921.5 55.8V425.3M954 55.8V425.3M986.5 55.8V425.3" fill="none" stroke="#9a9a9a" stroke-width="0.8"/>
<g fill="#fff" stroke="#fff" stroke-width="0.6" font-family='"Liberation Sans", sans-serif' font-size="6.5" letter-spacing="1.77" text-anchor="middle" stroke-linejoin="round" text-rendering="geometricPrecision">
<text x="678.64" y="64.76">*</text>
<text x="743.64" y="64.76">**</text>
<text x="776.14" y="64.76">*</text>
<text x="841.14" y="64.76">*</text>
<text x="906.14" y="64.76">**</text>
<text x="971.14" y="64.76">*</text>
<text x="678.64" y="80.83">*</text>
<text x="711.14" y="80.83">*</text>
<text x="743.64" y="80.83">*</text>
<text x="776.14" y="80.83">**</text>
<text x="808.64" y="80.83">*</text>
<text x="841.14" y="80.83">*</text>
<text x="873.64" y="80.83">*</text>
<text x="906.14" y="80.83">**</text>
<text x="938.64" y="80.83">*</text>
<text x="971.14" y="80.83">**</text>
<text x="678.64" y="96.89">*</text>
<text x="711.14" y="96.89">*</text>
<text x="743.64" y="96.89">*</text>
<text x="776.14" y="96.89">*</text>
<text x="841.14" y="96.89">**</text>
<text x="873.64" y="96.89">*</text>
<text x="906.14" y="96.89">**</text>
<text x="938.64" y="96.89">*</text>
<text x="971.14" y="96.89">*</text>
<text x="678.64" y="112.96">*</text>
<text x="743.64" y="112.96">*</text>
<text x="776.14" y="112.96">*</text>
<text x="841.14" y="112.96">**</text>
<text x="873.64" y="112.96">*</text>
<text x="906.14" y="112.96">**</text>
<text x="938.64" y="112.96">*</text>
<text x="971.14" y="112.96">*</text>
<text x="678.64" y="129.02">*</text>
<text x="743.64" y="129.02">*</text>
<text x="776.14" y="129.02">*</text>
<text x="841.14" y="129.02">**</text>
<text x="873.64" y="129.02">*</text>
<text x="906.14" y="129.02">**</text>
<text x="938.64" y="129.02">*</text>
<text x="971.14" y="129.02">*</text>
<text x="678.64" y="145.09">*</text>
<text x="711.14" y="145.09">**</text>
<text x="776.14" y="145.09">*</text>
<text x="808.64" y="145.09">**</text>
<text x="808.64" y="161.16">*</text>
<text x="841.14" y="161.16">*</text>
<text x="906.14" y="161.16">*</text>
<text x="938.64" y="161.16">*</text>
<text x="971.14" y="161.16">*</text>
<text x="678.64" y="177.22">*</text>
<text x="711.14" y="177.22">*</text>
<text x="776.14" y="177.22">*</text>
<text x="808.64" y="177.22">**</text>
<text x="841.14" y="177.22">*</text>
<text x="906.14" y="177.22">**</text>
<text x="938.64" y="177.22">*</text>
<text x="971.14" y="177.22">**</text>
<text x="743.64" y="209.35">*</text>
<text x="971.14" y="225.42">*</text>
<text x="711.14" y="241.48">*</text>
<text x="776.14" y="241.48">*</text>
<text x="808.64" y="241.48">**</text>
<text x="841.14" y="241.48">*</text>
<text x="873.64" y="241.48">*</text>
<text x="906.14" y="241.48">**</text>
<text x="938.64" y="241.48">*</text>
<text x="971.14" y="241.48">*</text>
<text x="678.64" y="257.55">**</text>
<text x="711.14" y="257.55">*</text>
<text x="743.64" y="257.55">*</text>
<text x="776.14" y="257.55">*</text>
<text x="841.14" y="257.55">**</text>
<text x="873.64" y="257.55">*</text>
<text x="938.64" y="257.55">**</text>
<text x="971.14" y="257.55">*</text>
<text x="678.64" y="273.61">**</text>
<text x="711.14" y="273.61">*</text>
<text x="743.64" y="273.61">**</text>
<text x="776.14" y="273.61">*</text>
<text x="841.14" y="273.61">**</text>
<text x="873.64" y="273.61">*</text>
<text x="906.14" y="273.61">*</text>
<text x="938.64" y="273.61">*</text>
<text x="971.14" y="273.61">*</text>
<text x="678.64" y="289.68">*</text>
<text x="743.64" y="289.68">*</text>
<text x="776.14" y="289.68">*</text>
<text x="841.14" y="289.68">*</text>
<text x="873.64" y="289.68">**</text>
<text x="906.14" y="289.68">*</text>
<text x="938.64" y="289.68">*</text>
<text x="971.14" y="289.68">*</text>
<text x="678.64" y="305.74">*</text>
<text x="743.64" y="305.74">**</text>
<text x="776.14" y="305.74">*</text>
<text x="841.14" y="305.74">*</text>
<text x="873.64" y="305.74">*</text>
<text x="743.64" y="321.81">*</text>
<text x="938.64" y="386.07">*</text>
<text x="971.14" y="386.07">*</text>
</g>
<path d="M677.75 55.8V39H710.25V55.8M742.75 55.8V32.9H775.25V55.8M694 39V18.9H759V32.9M840.25 55.8V35.7H872.75V55.8M937.75 55.8V39H970.25V55.8M905.25 55.8V30.5H954V39M856.5 35.7V26.8H929.62V30.5M807.75 55.8V8.2H893.06V26.8M726.5 18.9V4H850.41V8.2" fill="none" stroke="#111" stroke-width="0.9" stroke-linejoin="miter"/>
<path d="M661.5 112.03H660.8V128.09H661.5M661.5 95.96H660V120.06H660.8M661.5 79.9H659.2V108.01H660M661.5 63.83H658.5V93.95H659.2M661.5 160.22H658.5V176.29H661.5M661.5 144.16H657V168.26H658.5M658.5 78.89H656.3V156.21H657M661.5 208.42H654.5V224.48H661.5M661.5 192.35H650.9V216.45H654.5M656.3 117.55H644.6V204.4H650.9M661.5 256.62H659.8V272.68H661.5M661.5 288.75H658.3V304.81H661.5M659.8 264.65H657.6V296.78H658.3M661.5 240.55H655.4V280.71H657.6M661.5 320.88H652.8V336.94H661.5M661.5 353.01H655.4V369.07H661.5M661.5 401.2H658.3V417.27H661.5M661.5 385.14H653.7V409.23H658.3M655.4 361.04H649.9V397.19H653.7M652.8 328.91H649V379.11H649.9M655.4 260.63H640.8V354.01H649M644.6 160.98H609.6V307.32H640.8" fill="none" stroke="#111" stroke-width="0.9" stroke-linejoin="miter"/>
<g font-family='"Liberation Sans", sans-serif' font-size="10.9" fill="#000" stroke="#000" stroke-width="0.22">
<text x="989.8" y="67.89">g__Muribaculum</text>
<text x="989.8" y="83.95">g__Phocaeicola</text>
<text x="989.8" y="100.02">g__Duncaniella</text>
<text x="989.8" y="116.08">g__Barnesiella</text>
<text x="989.8" y="132.15">g__Porphyromonas</text>
<text x="989.8" y="148.21">g__Butyrivibrio</text>
<text x="989.8" y="164.28">g__Bacteroides</text>
<text x="989.8" y="180.34">g__Prevotella</text>
<text x="989.8" y="196.41">f__Lachnospiraceae;unclassified</text>
<text x="989.8" y="212.47">g__Clostridium</text>
<text x="989.8" y="228.54">g__Ligilactobacillus</text>
<text x="989.8" y="244.6">g__Flavonifractor</text>
<text x="989.8" y="260.67">g__Faecalibaculum</text>
<text x="989.8" y="276.74">g__Mucispirillum</text>
<text x="989.8" y="292.8">g__Bilophila</text>
<text x="989.8" y="308.87">g__Parasutterella</text>
<text x="989.8" y="324.93">g__Chlamydia</text>
<text x="989.8" y="341">g__Helicobacter</text>
<text x="989.8" y="357.06">g__Desulfovibrio</text>
<text x="989.8" y="373.13">g__Roseburia</text>
<text x="989.8" y="389.19">g__Oscillibacter</text>
<text x="989.8" y="405.26">g__Alistipes</text>
<text x="989.8" y="421.32">g__Ruminococcus</text>
</g>
<g font-family='"Liberation Sans", sans-serif' font-size="10.9" fill="#000" stroke="#000" stroke-width="0.22" text-anchor="end">
<text transform="translate(681.62 429.1) rotate(-90)">IL−6</text>
<text transform="translate(714.12 429.1) rotate(-90)">White epididymal fat</text>
<text transform="translate(746.62 429.1) rotate(-90)">TC</text>
<text transform="translate(779.12 429.1) rotate(-90)">TNF−α</text>
<text transform="translate(811.62 429.1) rotate(-90)">Body weight</text>
<text transform="translate(844.12 429.1) rotate(-90)">AST</text>
<text transform="translate(876.62 429.1) rotate(-90)">Fasting blood glucose</text>
<text transform="translate(909.12 429.1) rotate(-90)">TBA</text>
<text transform="translate(941.62 429.1) rotate(-90)">ALT</text>
<text transform="translate(974.12 429.1) rotate(-90)">TG</text>
</g>
<linearGradient id="lgB" x1="0" y1="0" x2="0" y2="1">
<stop offset="0" stop-color="#a50026"/>
<stop offset="0.03" stop-color="#af0a26"/>
<stop offset="0.05" stop-color="#b91326"/>
<stop offset="0.07" stop-color="#c31d27"/>
<stop offset="0.1" stop-color="#cd2627"/>
<stop offset="0.12" stop-color="#d73027"/>
<stop offset="0.15" stop-color="#dd3c2d"/>
<stop offset="0.17" stop-color="#e34832"/>
<stop offset="0.2" stop-color="#e85538"/>
<stop offset="0.23" stop-color="#ee613d"/>
<stop offset="0.25" stop-color="#f46d43"/>
<stop offset="0.28" stop-color="#f67a49"/>
<stop offset="0.3" stop-color="#f8874f"/>
<stop offset="0.33" stop-color="#f99455"/>
<stop offset="0.35" stop-color="#fba15b"/>
<stop offset="0.38" stop-color="#fdae61"/>
<stop offset="0.4" stop-color="#fdb86a"/>
<stop offset="0.42" stop-color="#fdc274"/>
<stop offset="0.45" stop-color="#fecc7d"/>
<stop offset="0.47" stop-color="#fed687"/>
<stop offset="0.5" stop-color="#fee090"/>
<stop offset="0.53" stop-color="#eddfa2"/>
<stop offset="0.55" stop-color="#ddddb4"/>
<stop offset="0.57" stop-color="#ccdcc5"/>
<stop offset="0.6" stop-color="#bcdad7"/>
<stop offset="0.62" stop-color="#abd9e9"/>
<stop offset="0.65" stop-color="#a0d0e4"/>
<stop offset="0.68" stop-color="#95c7df"/>
<stop offset="0.7" stop-color="#8abfdb"/>
<stop offset="0.72" stop-color="#7fb6d6"/>
<stop offset="0.75" stop-color="#74add1"/>
<stop offset="0.78" stop-color="#6ba2cb"/>
<stop offset="0.8" stop-color="#6197c5"/>
<stop offset="0.82" stop-color="#588bc0"/>
<stop offset="0.85" stop-color="#4e80ba"/>
<stop offset="0.88" stop-color="#4575b4"/>
<stop offset="0.9" stop-color="#4168ae"/>
<stop offset="0.93" stop-color="#3d5ca8"/>
<stop offset="0.95" stop-color="#394fa1"/>
<stop offset="0.97" stop-color="#35439b"/>
<stop offset="1" stop-color="#313695"/>
</linearGradient>
<rect x="1154.7" y="55.8" width="9.3" height="148.4" fill="url(#lgB)"/>
<clipPath id="lgBc"><rect x="0" y="0" width="1181" height="1371"/></clipPath>
<g font-family='"Liberation Sans", sans-serif' font-size="11.8" fill="#000" stroke="#000" stroke-width="0.24" clip-path="url(#lgBc)">
<text x="1168.14" y="60.49">1</text>
<text x="1168.14" y="100.19">0.5</text>
<text x="1168.14" y="138.89">0</text>
<text x="1168.14" y="177.89">−0.5</text>
</g>
<text x="902" y="586" font-family='"Liberation Serif", serif' font-weight="bold" font-size="34.5" text-anchor="middle" fill="#000">(B)</text>
<g shape-rendering="crispEdges">
<rect x="1235.2" y="60.5" width="41.38" height="33.85" fill="#e85538"/>
<rect x="1276.28" y="60.5" width="41.38" height="33.85" fill="#f67a49"/>
<rect x="1317.36" y="60.5" width="41.38" height="33.85" fill="#f8874f"/>
<rect x="1358.44" y="60.5" width="41.38" height="33.85" fill="#d73027"/>
<rect x="1399.52" y="60.5" width="41.38" height="33.85" fill="#e34832"/>
<rect x="1440.6" y="60.5" width="41.38" height="33.85" fill="#dd3c2d"/>
<rect x="1481.68" y="60.5" width="41.38" height="33.85" fill="#f46d43"/>
<rect x="1522.76" y="60.5" width="41.38" height="33.85" fill="#dd3c2d"/>
<rect x="1563.84" y="60.5" width="41.38" height="33.85" fill="#dd3c2d"/>
<rect x="1604.92" y="60.5" width="41.38" height="33.85" fill="#e34832"/>
<rect x="1235.2" y="94.05" width="41.38" height="33.85" fill="#c72127"/>
<rect x="1276.28" y="94.05" width="41.38" height="33.85" fill="#b50f26"/>
<rect x="1317.36" y="94.05" width="41.38" height="33.85" fill="#af0a26"/>
<rect x="1358.44" y="94.05" width="41.38" height="33.85" fill="#e34832"/>
<rect x="1399.52" y="94.05" width="41.38" height="33.85" fill="#e34832"/>
<rect x="1440.6" y="94.05" width="41.38" height="33.85" fill="#d12a27"/>
<rect x="1481.68" y="94.05" width="41.38" height="33.85" fill="#c11b27"/>
<rect x="1522.76" y="94.05" width="41.38" height="33.85" fill="#d12a27"/>
<rect x="1563.84" y="94.05" width="41.38" height="33.85" fill="#d12a27"/>
<rect x="1604.92" y="94.05" width="41.38" height="33.85" fill="#d12a27"/>
<rect x="1235.2" y="127.61" width="41.38" height="33.85" fill="#c72127"/>
<rect x="1276.28" y="127.61" width="41.38" height="33.85" fill="#b50f26"/>
<rect x="1317.36" y="127.61" width="41.38" height="33.85" fill="#af0a26"/>
<rect x="1358.44" y="127.61" width="41.38" height="33.85" fill="#e34832"/>
<rect x="1399.52" y="127.61" width="41.38" height="33.85" fill="#e34832"/>
<rect x="1440.6" y="127.61" width="41.38" height="33.85" fill="#d12a27"/>
<rect x="1481.68" y="127.61" width="41.38" height="33.85" fill="#c11b27"/>
<rect x="1522.76" y="127.61" width="41.38" height="33.85" fill="#d12a27"/>
<rect x="1563.84" y="127.61" width="41.38" height="33.85" fill="#d12a27"/>
<rect x="1604.92" y="127.61" width="41.38" height="33.85" fill="#d12a27"/>
<rect x="1235.2" y="161.16" width="41.38" height="33.85" fill="#f4df9b"/>
<rect x="1276.28" y="161.16" width="41.38" height="33.85" fill="#fecc7d"/>
<rect x="1317.36" y="161.16" width="41.38" height="33.85" fill="#f4df9b"/>
<rect x="1358.44" y="161.16" width="41.38" height="33.85" fill="#fba15b"/>
<rect x="1399.52" y="161.16" width="41.38" height="33.85" fill="#fdb86a"/>
<rect x="1440.6" y="161.16" width="41.38" height="33.85" fill="#fdc274"/>
<rect x="1481.68" y="161.16" width="41.38" height="33.85" fill="#fdb86a"/>
<rect x="1522.76" y="161.16" width="41.38" height="33.85" fill="#fdae61"/>
<rect x="1563.84" y="161.16" width="41.38" height="33.85" fill="#fdc274"/>
<rect x="1604.92" y="161.16" width="41.38" height="33.85" fill="#fdae61"/>
<rect x="1235.2" y="194.72" width="41.38" height="33.85" fill="#fdb86a"/>
<rect x="1276.28" y="194.72" width="41.38" height="33.85" fill="#f67a49"/>
<rect x="1317.36" y="194.72" width="41.38" height="33.85" fill="#f46d43"/>
<rect x="1358.44" y="194.72" width="41.38" height="33.85" fill="#fdae61"/>
<rect x="1399.52" y="194.72" width="41.38" height="33.85" fill="#f99455"/>
<rect x="1440.6" y="194.72" width="41.38" height="33.85" fill="#e85538"/>
<rect x="1481.68" y="194.72" width="41.38" height="33.85" fill="#f46d43"/>
<rect x="1522.76" y="194.72" width="41.38" height="33.85" fill="#fba15b"/>
<rect x="1563.84" y="194.72" width="41.38" height="33.85" fill="#f8874f"/>
<rect x="1604.92" y="194.72" width="41.38" height="33.85" fill="#f67a49"/>
<rect x="1235.2" y="228.27" width="41.38" height="33.85" fill="#7db4d5"/>
<rect x="1276.28" y="228.27" width="41.38" height="33.85" fill="#7db4d5"/>
<rect x="1317.36" y="228.27" width="41.38" height="33.85" fill="#7db4d5"/>
<rect x="1358.44" y="228.27" width="41.38" height="33.85" fill="#3c59a6"/>
<rect x="1399.52" y="228.27" width="41.38" height="33.85" fill="#3c59a6"/>
<rect x="1440.6" y="228.27" width="41.38" height="33.85" fill="#3f61aa"/>
<rect x="1481.68" y="228.27" width="41.38" height="33.85" fill="#5487bd"/>
<rect x="1522.76" y="228.27" width="41.38" height="33.85" fill="#5a8ec1"/>
<rect x="1563.84" y="228.27" width="41.38" height="33.85" fill="#5a8ec1"/>
<rect x="1604.92" y="228.27" width="41.38" height="33.85" fill="#5082bb"/>
<rect x="1235.2" y="261.83" width="41.38" height="33.85" fill="#5689be"/>
<rect x="1276.28" y="261.83" width="41.38" height="33.85" fill="#3f61aa"/>
<rect x="1317.36" y="261.83" width="41.38" height="33.85" fill="#4e80ba"/>
<rect x="1358.44" y="261.83" width="41.38" height="33.85" fill="#3f63ab"/>
<rect x="1399.52" y="261.83" width="41.38" height="33.85" fill="#4066ad"/>
<rect x="1440.6" y="261.83" width="41.38" height="33.85" fill="#3f61aa"/>
<rect x="1481.68" y="261.83" width="41.38" height="33.85" fill="#3f61aa"/>
<rect x="1522.76" y="261.83" width="41.38" height="33.85" fill="#4370b2"/>
<rect x="1563.84" y="261.83" width="41.38" height="33.85" fill="#3b57a5"/>
<rect x="1604.92" y="261.83" width="41.38" height="33.85" fill="#35439b"/>
<rect x="1235.2" y="295.38" width="41.38" height="33.85" fill="#5689be"/>
<rect x="1276.28" y="295.38" width="41.38" height="33.85" fill="#6399c7"/>
<rect x="1317.36" y="295.38" width="41.38" height="33.85" fill="#5a8ec1"/>
<rect x="1358.44" y="295.38" width="41.38" height="33.85" fill="#3d5ca8"/>
<rect x="1399.52" y="295.38" width="41.38" height="33.85" fill="#3d5ca8"/>
<rect x="1440.6" y="295.38" width="41.38" height="33.85" fill="#3f61aa"/>
<rect x="1481.68" y="295.38" width="41.38" height="33.85" fill="#4e80ba"/>
<rect x="1522.76" y="295.38" width="41.38" height="33.85" fill="#5082bb"/>
<rect x="1563.84" y="295.38" width="41.38" height="33.85" fill="#4575b4"/>
<rect x="1604.92" y="295.38" width="41.38" height="33.85" fill="#4168ae"/>
<rect x="1235.2" y="328.94" width="41.38" height="33.85" fill="#5689be"/>
<rect x="1276.28" y="328.94" width="41.38" height="33.85" fill="#5082bb"/>
<rect x="1317.36" y="328.94" width="41.38" height="33.85" fill="#5082bb"/>
<rect x="1358.44" y="328.94" width="41.38" height="33.85" fill="#3c59a6"/>
<rect x="1399.52" y="328.94" width="41.38" height="33.85" fill="#3c59a6"/>
<rect x="1440.6" y="328.94" width="41.38" height="33.85" fill="#34409a"/>
<rect x="1481.68" y="328.94" width="41.38" height="33.85" fill="#3d5ca8"/>
<rect x="1522.76" y="328.94" width="41.38" height="33.85" fill="#5082bb"/>
<rect x="1563.84" y="328.94" width="41.38" height="33.85" fill="#5082bb"/>
<rect x="1604.92" y="328.94" width="41.38" height="33.85" fill="#3e5ea9"/>
<rect x="1235.2" y="362.49" width="41.38" height="33.85" fill="#a0d0e4"/>
<rect x="1276.28" y="362.49" width="41.38" height="33.85" fill="#b5dade"/>
<rect x="1317.36" y="362.49" width="41.38" height="33.85" fill="#d0dcc2"/>
<rect x="1358.44" y="362.49" width="41.38" height="33.85" fill="#659bc8"/>
<rect x="1399.52" y="362.49" width="41.38" height="33.85" fill="#659bc8"/>
<rect x="1440.6" y="362.49" width="41.38" height="33.85" fill="#6ba2cb"/>
<rect x="1481.68" y="362.49" width="41.38" height="33.85" fill="#a0d0e4"/>
<rect x="1522.76" y="362.49" width="41.38" height="33.85" fill="#7db4d5"/>
<rect x="1563.84" y="362.49" width="41.38" height="33.85" fill="#6ca4cc"/>
<rect x="1604.92" y="362.49" width="41.38" height="33.85" fill="#74add1"/>
<rect x="1235.2" y="396.05" width="41.38" height="33.85" fill="#e0ddb0"/>
<rect x="1276.28" y="396.05" width="41.38" height="33.85" fill="#e3deac"/>
<rect x="1317.36" y="396.05" width="41.38" height="33.85" fill="#fdb265"/>
<rect x="1358.44" y="396.05" width="41.38" height="33.85" fill="#8cc0dc"/>
<rect x="1399.52" y="396.05" width="41.38" height="33.85" fill="#a0d0e4"/>
<rect x="1440.6" y="396.05" width="41.38" height="33.85" fill="#fdae61"/>
<rect x="1481.68" y="396.05" width="41.38" height="33.85" fill="#fbe094"/>
<rect x="1522.76" y="396.05" width="41.38" height="33.85" fill="#e3deac"/>
<rect x="1563.84" y="396.05" width="41.38" height="33.85" fill="#bcdad7"/>
<rect x="1604.92" y="396.05" width="41.38" height="33.85" fill="#c9dcc9"/>
</g>
<path d="M1235.2 60.5H1646M1235.2 94.05H1646M1235.2 127.61H1646M1235.2 161.16H1646M1235.2 194.72H1646M1235.2 228.27H1646M1235.2 261.83H1646M1235.2 295.38H1646M1235.2 328.94H1646M1235.2 362.49H1646M1235.2 396.05H1646M1235.2 429.6H1646M1235.2 60.5V429.6M1276.28 60.5V429.6M1317.36 60.5V429.6M1358.44 60.5V429.6M1399.52 60.5V429.6M1440.6 60.5V429.6M1481.68 60.5V429.6M1522.76 60.5V429.6M1563.84 60.5V429.6M1604.92 60.5V429.6M1646 60.5V429.6" fill="none" stroke="#9a9a9a" stroke-width="0.8"/>
<g fill="#fff" stroke="#fff" stroke-width="0.6" font-family='"Liberation Sans", sans-serif' font-size="6.5" letter-spacing="1.77" text-anchor="middle" stroke-linejoin="round" text-rendering="geometricPrecision">
<text x="1379.87" y="78.21">*</text>
<text x="1256.63" y="111.76">*</text>
<text x="1297.71" y="111.76">**</text>
<text x="1338.79" y="111.76">**</text>
<text x="1462.03" y="111.76">*</text>
<text x="1503.11" y="111.76">*</text>
<text x="1544.19" y="111.76">*</text>
<text x="1585.27" y="111.76">*</text>
<text x="1626.35" y="111.76">*</text>
<text x="1256.63" y="145.32">*</text>
<text x="1297.71" y="145.32">**</text>
<text x="1338.79" y="145.32">**</text>
<text x="1462.03" y="145.32">*</text>
<text x="1503.11" y="145.32">*</text>
<text x="1544.19" y="145.32">*</text>
<text x="1585.27" y="145.32">*</text>
<text x="1626.35" y="145.32">*</text>
<text x="1379.87" y="245.98">*</text>
<text x="1420.95" y="245.98">*</text>
<text x="1462.03" y="245.98">*</text>
<text x="1297.71" y="279.54">*</text>
<text x="1379.87" y="279.54">*</text>
<text x="1420.95" y="279.54">*</text>
<text x="1462.03" y="279.54">*</text>
<text x="1503.11" y="279.54">*</text>
<text x="1544.19" y="279.54">*</text>
<text x="1585.27" y="279.54">*</text>
<text x="1626.35" y="279.54">**</text>
<text x="1379.87" y="313.09">*</text>
<text x="1420.95" y="313.09">*</text>
<text x="1462.03" y="313.09">*</text>
<text x="1585.27" y="313.09">*</text>
<text x="1626.35" y="313.09">*</text>
<text x="1379.87" y="346.64">*</text>
<text x="1420.95" y="346.64">*</text>
<text x="1462.03" y="346.64">**</text>
<text x="1503.11" y="346.64">*</text>
<text x="1626.35" y="346.64">*</text>
</g>
<path d="M1296.82 60.5V45.2H1337.9V60.5M1255.74 60.5V36.7H1317.36V45.2M1378.98 60.5V50.3H1420.06V60.5M1584.38 60.5V52H1625.46V60.5M1543.3 60.5V46.9H1604.92V52M1502.22 60.5V40.1H1574.11V46.9M1461.14 60.5V32.6H1538.16V40.1M1399.52 50.3V26.5H1499.65V32.6M1286.55 36.7V8.5H1449.59V26.5" fill="none" stroke="#111" stroke-width="0.9" stroke-linejoin="miter"/>
<path d="M1235.2 77.28H1226.6V127.61H1235.2M1235.2 177.94H1225.5V211.5H1235.2M1226.6 102.44H1213.5V194.72H1225.5M1235.2 312.16H1232.8V345.71H1235.2M1235.2 278.6H1231.6V328.94H1232.8M1235.2 245.05H1228.7V303.77H1231.6M1235.2 379.27H1223.7V412.82H1235.2M1228.7 274.41H1211.6V396.05H1223.7M1213.5 148.58H1183.4V335.23H1211.6" fill="none" stroke="#111" stroke-width="0.9" stroke-linejoin="miter"/>
<g font-family='"Liberation Sans", sans-serif' font-size="10.9" fill="#000" stroke="#000" stroke-width="0.22">
<text x="1649" y="81.33">Valeric acid</text>
<text x="1649" y="114.89">Isobutyric acid</text>
<text x="1649" y="148.44">Isovaleric acid</text>
<text x="1649" y="182">Heptanoic acid</text>
<text x="1649" y="215.55">Nonanoic acid</text>
<text x="1649" y="249.1">Decanoic acid</text>
<text x="1649" y="282.66">Butyric acid</text>
<text x="1649" y="316.21">Acetic acid</text>
<text x="1649" y="349.77">Propionic acid</text>
<text x="1649" y="383.32">Hexanoic acid</text>
<text x="1649" y="416.88">Octanoic acid</text>
</g>
<g font-family='"Liberation Sans", sans-serif' font-size="10.9" fill="#000" stroke="#000" stroke-width="0.22" text-anchor="end">
<text transform="translate(1259.61 433.1) rotate(-90)">Body weight</text>
<text transform="translate(1300.69 433.1) rotate(-90)">AST</text>
<text transform="translate(1341.77 433.1) rotate(-90)">TBA</text>
<text transform="translate(1382.85 433.1) rotate(-90)">ALT</text>
<text transform="translate(1423.93 433.1) rotate(-90)">Fasting blood glucose</text>
<text transform="translate(1465.01 433.1) rotate(-90)">TC</text>
<text transform="translate(1506.09 433.1) rotate(-90)">TG</text>
<text transform="translate(1547.17 433.1) rotate(-90)">White epididymal fat</text>
<text transform="translate(1588.25 433.1) rotate(-90)">IL−6</text>
<text transform="translate(1629.33 433.1) rotate(-90)">TNF−α</text>
</g>
<linearGradient id="lgC" x1="0" y1="0" x2="0" y2="1">
<stop offset="0" stop-color="#a50026"/>
<stop offset="0.03" stop-color="#af0a26"/>
<stop offset="0.05" stop-color="#b91326"/>
<stop offset="0.07" stop-color="#c31d27"/>
<stop offset="0.1" stop-color="#cd2627"/>
<stop offset="0.12" stop-color="#d73027"/>
<stop offset="0.15" stop-color="#dd3c2d"/>
<stop offset="0.17" stop-color="#e34832"/>
<stop offset="0.2" stop-color="#e85538"/>
<stop offset="0.23" stop-color="#ee613d"/>
<stop offset="0.25" stop-color="#f46d43"/>
<stop offset="0.28" stop-color="#f67a49"/>
<stop offset="0.3" stop-color="#f8874f"/>
<stop offset="0.33" stop-color="#f99455"/>
<stop offset="0.35" stop-color="#fba15b"/>
<stop offset="0.38" stop-color="#fdae61"/>
<stop offset="0.4" stop-color="#fdb86a"/>
<stop offset="0.42" stop-color="#fdc274"/>
<stop offset="0.45" stop-color="#fecc7d"/>
<stop offset="0.47" stop-color="#fed687"/>
<stop offset="0.5" stop-color="#fee090"/>
<stop offset="0.53" stop-color="#eddfa2"/>
<stop offset="0.55" stop-color="#ddddb4"/>
<stop offset="0.57" stop-color="#ccdcc5"/>
<stop offset="0.6" stop-color="#bcdad7"/>
<stop offset="0.62" stop-color="#abd9e9"/>
<stop offset="0.65" stop-color="#a0d0e4"/>
<stop offset="0.68" stop-color="#95c7df"/>
<stop offset="0.7" stop-color="#8abfdb"/>
<stop offset="0.72" stop-color="#7fb6d6"/>
<stop offset="0.75" stop-color="#74add1"/>
<stop offset="0.78" stop-color="#6ba2cb"/>
<stop offset="0.8" stop-color="#6197c5"/>
<stop offset="0.82" stop-color="#588bc0"/>
<stop offset="0.85" stop-color="#4e80ba"/>
<stop offset="0.88" stop-color="#4575b4"/>
<stop offset="0.9" stop-color="#4168ae"/>
<stop offset="0.93" stop-color="#3d5ca8"/>
<stop offset="0.95" stop-color="#394fa1"/>
<stop offset="0.97" stop-color="#35439b"/>
<stop offset="1" stop-color="#313695"/>
</linearGradient>
<rect x="1728.2" y="60.5" width="9.7" height="147.9" fill="url(#lgC)"/>
<g font-family='"Liberation Sans", sans-serif' font-size="11.8" fill="#000" stroke="#000" stroke-width="0.24">
<text x="1742.04" y="65.19">1</text>
<text x="1742.04" y="102.69">0.5</text>
<text x="1742.04" y="139.39">0</text>
<text x="1742.04" y="176.39">−0.5</text>
<text x="1742.04" y="212.79">−1</text>
</g>
<text x="1475.8" y="587" font-family='"Liberation Serif", serif' font-weight="bold" font-size="34.5" text-anchor="middle" fill="#000">(C)</text>
<g shape-rendering="crispEdges">
<rect x="55.2" y="714.8" width="41.44" height="33.88" fill="#4979b6"/>
<rect x="96.34" y="714.8" width="41.44" height="33.88" fill="#5d92c3"/>
<rect x="137.48" y="714.8" width="41.44" height="33.88" fill="#8abfdb"/>
<rect x="178.62" y="714.8" width="41.44" height="33.88" fill="#81b8d7"/>
<rect x="219.76" y="714.8" width="41.44" height="33.88" fill="#70a9cf"/>
<rect x="260.9" y="714.8" width="41.44" height="33.88" fill="#4575b4"/>
<rect x="302.04" y="714.8" width="41.44" height="33.88" fill="#3a52a3"/>
<rect x="343.18" y="714.8" width="41.44" height="33.88" fill="#3a52a3"/>
<rect x="384.32" y="714.8" width="41.44" height="33.88" fill="#659bc8"/>
<rect x="425.46" y="714.8" width="41.44" height="33.88" fill="#5082bb"/>
<rect x="55.2" y="748.38" width="41.44" height="33.88" fill="#4979b6"/>
<rect x="96.34" y="748.38" width="41.44" height="33.88" fill="#5285bc"/>
<rect x="137.48" y="748.38" width="41.44" height="33.88" fill="#4d7eb9"/>
<rect x="178.62" y="748.38" width="41.44" height="33.88" fill="#659bc8"/>
<rect x="219.76" y="748.38" width="41.44" height="33.88" fill="#5d92c3"/>
<rect x="260.9" y="748.38" width="41.44" height="33.88" fill="#3f61aa"/>
<rect x="302.04" y="748.38" width="41.44" height="33.88" fill="#4066ad"/>
<rect x="343.18" y="748.38" width="41.44" height="33.88" fill="#4066ad"/>
<rect x="384.32" y="748.38" width="41.44" height="33.88" fill="#4168ae"/>
<rect x="425.46" y="748.38" width="41.44" height="33.88" fill="#4575b4"/>
<rect x="55.2" y="781.96" width="41.44" height="33.88" fill="#4168ae"/>
<rect x="96.34" y="781.96" width="41.44" height="33.88" fill="#4d7eb9"/>
<rect x="137.48" y="781.96" width="41.44" height="33.88" fill="#5689be"/>
<rect x="178.62" y="781.96" width="41.44" height="33.88" fill="#6197c5"/>
<rect x="219.76" y="781.96" width="41.44" height="33.88" fill="#5a8ec1"/>
<rect x="260.9" y="781.96" width="41.44" height="33.88" fill="#4066ad"/>
<rect x="302.04" y="781.96" width="41.44" height="33.88" fill="#34409a"/>
<rect x="343.18" y="781.96" width="41.44" height="33.88" fill="#36459c"/>
<rect x="384.32" y="781.96" width="41.44" height="33.88" fill="#4575b4"/>
<rect x="425.46" y="781.96" width="41.44" height="33.88" fill="#4575b4"/>
<rect x="55.2" y="815.55" width="41.44" height="33.88" fill="#5082bb"/>
<rect x="96.34" y="815.55" width="41.44" height="33.88" fill="#3f63ab"/>
<rect x="137.48" y="815.55" width="41.44" height="33.88" fill="#91c4dd"/>
<rect x="178.62" y="815.55" width="41.44" height="33.88" fill="#6399c7"/>
<rect x="219.76" y="815.55" width="41.44" height="33.88" fill="#74add1"/>
<rect x="260.9" y="815.55" width="41.44" height="33.88" fill="#81b8d7"/>
<rect x="302.04" y="815.55" width="41.44" height="33.88" fill="#97c9e0"/>
<rect x="343.18" y="815.55" width="41.44" height="33.88" fill="#a4d4e6"/>
<rect x="384.32" y="815.55" width="41.44" height="33.88" fill="#86bbd9"/>
<rect x="425.46" y="815.55" width="41.44" height="33.88" fill="#91c4dd"/>
<rect x="55.2" y="849.13" width="41.44" height="33.88" fill="#81b8d7"/>
<rect x="96.34" y="849.13" width="41.44" height="33.88" fill="#659bc8"/>
<rect x="137.48" y="849.13" width="41.44" height="33.88" fill="#70a9cf"/>
<rect x="178.62" y="849.13" width="41.44" height="33.88" fill="#9ccde2"/>
<rect x="219.76" y="849.13" width="41.44" height="33.88" fill="#eddfa2"/>
<rect x="260.9" y="849.13" width="41.44" height="33.88" fill="#70a9cf"/>
<rect x="302.04" y="849.13" width="41.44" height="33.88" fill="#81b8d7"/>
<rect x="343.18" y="849.13" width="41.44" height="33.88" fill="#ccdcc5"/>
<rect x="384.32" y="849.13" width="41.44" height="33.88" fill="#a4d4e6"/>
<rect x="425.46" y="849.13" width="41.44" height="33.88" fill="#fedc8c"/>
<rect x="55.2" y="882.71" width="41.44" height="33.88" fill="#cd2627"/>
<rect x="96.34" y="882.71" width="41.44" height="33.88" fill="#cd2627"/>
<rect x="137.48" y="882.71" width="41.44" height="33.88" fill="#b30d26"/>
<rect x="178.62" y="882.71" width="41.44" height="33.88" fill="#ad0826"/>
<rect x="219.76" y="882.71" width="41.44" height="33.88" fill="#b91326"/>
<rect x="260.9" y="882.71" width="41.44" height="33.88" fill="#dc3a2b"/>
<rect x="302.04" y="882.71" width="41.44" height="33.88" fill="#e14631"/>
<rect x="343.18" y="882.71" width="41.44" height="33.88" fill="#df412f"/>
<rect x="384.32" y="882.71" width="41.44" height="33.88" fill="#cd2627"/>
<rect x="425.46" y="882.71" width="41.44" height="33.88" fill="#d12a27"/>
<rect x="55.2" y="916.29" width="41.44" height="33.88" fill="#cd2627"/>
<rect x="96.34" y="916.29" width="41.44" height="33.88" fill="#cd2627"/>
<rect x="137.48" y="916.29" width="41.44" height="33.88" fill="#b30d26"/>
<rect x="178.62" y="916.29" width="41.44" height="33.88" fill="#ad0826"/>
<rect x="219.76" y="916.29" width="41.44" height="33.88" fill="#b91326"/>
<rect x="260.9" y="916.29" width="41.44" height="33.88" fill="#dc3a2b"/>
<rect x="302.04" y="916.29" width="41.44" height="33.88" fill="#e14631"/>
<rect x="343.18" y="916.29" width="41.44" height="33.88" fill="#df412f"/>
<rect x="384.32" y="916.29" width="41.44" height="33.88" fill="#cd2627"/>
<rect x="425.46" y="916.29" width="41.44" height="33.88" fill="#d12a27"/>
<rect x="55.2" y="949.87" width="41.44" height="33.88" fill="#e85538"/>
<rect x="96.34" y="949.87" width="41.44" height="33.88" fill="#f8874f"/>
<rect x="137.48" y="949.87" width="41.44" height="33.88" fill="#fba15b"/>
<rect x="178.62" y="949.87" width="41.44" height="33.88" fill="#e34832"/>
<rect x="219.76" y="949.87" width="41.44" height="33.88" fill="#e85538"/>
<rect x="260.9" y="949.87" width="41.44" height="33.88" fill="#fba15b"/>
<rect x="302.04" y="949.87" width="41.44" height="33.88" fill="#f67a49"/>
<rect x="343.18" y="949.87" width="41.44" height="33.88" fill="#e34832"/>
<rect x="384.32" y="949.87" width="41.44" height="33.88" fill="#f67a49"/>
<rect x="425.46" y="949.87" width="41.44" height="33.88" fill="#e85538"/>
<rect x="55.2" y="983.45" width="41.44" height="33.88" fill="#f46d43"/>
<rect x="96.34" y="983.45" width="41.44" height="33.88" fill="#fdb86a"/>
<rect x="137.48" y="983.45" width="41.44" height="33.88" fill="#fdb86a"/>
<rect x="178.62" y="983.45" width="41.44" height="33.88" fill="#fecc7d"/>
<rect x="219.76" y="983.45" width="41.44" height="33.88" fill="#fdc274"/>
<rect x="260.9" y="983.45" width="41.44" height="33.88" fill="#f46d43"/>
<rect x="302.04" y="983.45" width="41.44" height="33.88" fill="#e85538"/>
<rect x="343.18" y="983.45" width="41.44" height="33.88" fill="#e85538"/>
<rect x="384.32" y="983.45" width="41.44" height="33.88" fill="#f46d43"/>
<rect x="425.46" y="983.45" width="41.44" height="33.88" fill="#f67a49"/>
<rect x="55.2" y="1017.04" width="41.44" height="33.88" fill="#fba15b"/>
<rect x="96.34" y="1017.04" width="41.44" height="33.88" fill="#ee613d"/>
<rect x="137.48" y="1017.04" width="41.44" height="33.88" fill="#f8874f"/>
<rect x="178.62" y="1017.04" width="41.44" height="33.88" fill="#f67a49"/>
<rect x="219.76" y="1017.04" width="41.44" height="33.88" fill="#fba15b"/>
<rect x="260.9" y="1017.04" width="41.44" height="33.88" fill="#fecc7d"/>
<rect x="302.04" y="1017.04" width="41.44" height="33.88" fill="#ddddb4"/>
<rect x="343.18" y="1017.04" width="41.44" height="33.88" fill="#aed9e5"/>
<rect x="384.32" y="1017.04" width="41.44" height="33.88" fill="#fdb86a"/>
<rect x="425.46" y="1017.04" width="41.44" height="33.88" fill="#fed687"/>
<rect x="55.2" y="1050.62" width="41.44" height="33.88" fill="#f8874f"/>
<rect x="96.34" y="1050.62" width="41.44" height="33.88" fill="#fdb86a"/>
<rect x="137.48" y="1050.62" width="41.44" height="33.88" fill="#fdc274"/>
<rect x="178.62" y="1050.62" width="41.44" height="33.88" fill="#f67a49"/>
<rect x="219.76" y="1050.62" width="41.44" height="33.88" fill="#f8874f"/>
<rect x="260.9" y="1050.62" width="41.44" height="33.88" fill="#a2d2e5"/>
<rect x="302.04" y="1050.62" width="41.44" height="33.88" fill="#fdc274"/>
<rect x="343.18" y="1050.62" width="41.44" height="33.88" fill="#fdb86a"/>
<rect x="384.32" y="1050.62" width="41.44" height="33.88" fill="#f99455"/>
<rect x="425.46" y="1050.62" width="41.44" height="33.88" fill="#f8874f"/>
</g>
<path d="M55.2 714.8H466.6M55.2 748.38H466.6M55.2 781.96H466.6M55.2 815.55H466.6M55.2 849.13H466.6M55.2 882.71H466.6M55.2 916.29H466.6M55.2 949.87H466.6M55.2 983.45H466.6M55.2 1017.04H466.6M55.2 1050.62H466.6M55.2 1084.2H466.6M55.2 714.8V1084.2M96.34 714.8V1084.2M137.48 714.8V1084.2M178.62 714.8V1084.2M219.76 714.8V1084.2M260.9 714.8V1084.2M302.04 714.8V1084.2M343.18 714.8V1084.2M384.32 714.8V1084.2M425.46 714.8V1084.2M466.6 714.8V1084.2" fill="none" stroke="#9a9a9a" stroke-width="0.8"/>
<g fill="#fff" stroke="#fff" stroke-width="0.6" font-family='"Liberation Sans", sans-serif' font-size="6.5" letter-spacing="1.77" text-anchor="middle" stroke-linejoin="round" text-rendering="geometricPrecision">
<text x="323.5" y="732.52">**</text>
<text x="364.64" y="732.52">**</text>
<text x="282.36" y="766.1">*</text>
<text x="323.5" y="766.1">*</text>
<text x="364.64" y="766.1">*</text>
<text x="405.78" y="766.1">*</text>
<text x="76.66" y="799.69">*</text>
<text x="282.36" y="799.69">*</text>
<text x="323.5" y="799.69">**</text>
<text x="364.64" y="799.69">**</text>
<text x="405.78" y="799.69">*</text>
<text x="117.8" y="833.27">*</text>
<text x="76.66" y="900.43">*</text>
<text x="117.8" y="900.43">*</text>
<text x="158.94" y="900.43">**</text>
<text x="200.08" y="900.43">**</text>
<text x="241.22" y="900.43">**</text>
<text x="405.78" y="900.43">*</text>
<text x="446.92" y="900.43">*</text>
<text x="76.66" y="934.01">*</text>
<text x="117.8" y="934.01">*</text>
<text x="158.94" y="934.01">**</text>
<text x="200.08" y="934.01">**</text>
<text x="241.22" y="934.01">**</text>
<text x="405.78" y="934.01">*</text>
<text x="446.92" y="934.01">*</text>
</g>
<path d="M75.77 714.8V692.5H116.91V714.8M199.19 714.8V699.3H240.33V714.8M158.05 714.8V689.4H219.76V699.3M96.34 692.5V684H188.91V689.4M322.61 714.8V701H363.75V714.8M404.89 714.8V698.2H446.03V714.8M343.18 701V685H425.46V698.2M281.47 714.8V677.2H384.32V685M142.62 684V663H332.89V677.2" fill="none" stroke="#111" stroke-width="0.9" stroke-linejoin="miter"/>
<path d="M55.2 765.17H53.3V798.75H55.2M55.2 731.59H51.8V781.96H53.3M55.2 832.34H47.7V865.92H55.2M51.8 756.78H39.4V849.13H47.7M55.2 966.66H47V1000.25H55.2M55.2 1033.83H46.7V1067.41H55.2M47 983.45H41.2V1050.62H46.7M55.2 916.29H34.3V1017.04H41.2M39.4 802.95H3.6V966.66H34.3" fill="none" stroke="#111" stroke-width="0.9" stroke-linejoin="miter"/>
<g font-family='"Liberation Sans", sans-serif' font-size="10.9" fill="#000" stroke="#000" stroke-width="0.22">
<text x="469.6" y="735.65">Decanoic acid</text>
<text x="469.6" y="769.23">Acetic acid</text>
<text x="469.6" y="802.81">Propionic acid</text>
<text x="469.6" y="836.39">Nonanoic acid</text>
<text x="469.6" y="869.97">Octanoic acid</text>
<text x="469.6" y="903.55">Isobutyric acid</text>
<text x="469.6" y="937.14">Isovaleric acid</text>
<text x="469.6" y="970.72">Heptanoic acid</text>
<text x="469.6" y="1004.3">Valeric acid</text>
<text x="469.6" y="1037.88">Butyric acid</text>
<text x="469.6" y="1071.46">Hexanoic acid</text>
</g>
<g font-family='"Liberation Sans", sans-serif' font-size="10.9" fill="#000" stroke="#000" stroke-width="0.22" text-anchor="end">
<text transform="translate(79.64 1087.7) rotate(-90)">ALT</text>
<text transform="translate(120.78 1087.7) rotate(-90)">Fasting blood glucose</text>
<text transform="translate(161.92 1087.7) rotate(-90)">TBA</text>
<text transform="translate(203.06 1087.7) rotate(-90)">AST</text>
<text transform="translate(244.2 1087.7) rotate(-90)">IL−6</text>
<text transform="translate(285.34 1087.7) rotate(-90)">TC</text>
<text transform="translate(326.48 1087.7) rotate(-90)">TG</text>
<text transform="translate(367.62 1087.7) rotate(-90)">TNF−α</text>
<text transform="translate(408.76 1087.7) rotate(-90)">Body weight</text>
<text transform="translate(449.9 1087.7) rotate(-90)">White epididymal fat</text>
</g>
<linearGradient id="lgD" x1="0" y1="0" x2="0" y2="1">
<stop offset="0" stop-color="#a50026"/>
<stop offset="0.03" stop-color="#af0a26"/>
<stop offset="0.05" stop-color="#b91326"/>
<stop offset="0.07" stop-color="#c31d27"/>
<stop offset="0.1" stop-color="#cd2627"/>
<stop offset="0.12" stop-color="#d73027"/>
<stop offset="0.15" stop-color="#dd3c2d"/>
<stop offset="0.17" stop-color="#e34832"/>
<stop offset="0.2" stop-color="#e85538"/>
<stop offset="0.23" stop-color="#ee613d"/>
<stop offset="0.25" stop-color="#f46d43"/>
<stop offset="0.28" stop-color="#f67a49"/>
<stop offset="0.3" stop-color="#f8874f"/>
<stop offset="0.33" stop-color="#f99455"/>
<stop offset="0.35" stop-color="#fba15b"/>
<stop offset="0.38" stop-color="#fdae61"/>
<stop offset="0.4" stop-color="#fdb86a"/>
<stop offset="0.42" stop-color="#fdc274"/>
<stop offset="0.45" stop-color="#fecc7d"/>
<stop offset="0.47" stop-color="#fed687"/>
<stop offset="0.5" stop-color="#fee090"/>
<stop offset="0.53" stop-color="#eddfa2"/>
<stop offset="0.55" stop-color="#ddddb4"/>
<stop offset="0.57" stop-color="#ccdcc5"/>
<stop offset="0.6" stop-color="#bcdad7"/>
<stop offset="0.62" stop-color="#abd9e9"/>
<stop offset="0.65" stop-color="#a0d0e4"/>
<stop offset="0.68" stop-color="#95c7df"/>
<stop offset="0.7" stop-color="#8abfdb"/>
<stop offset="0.72" stop-color="#7fb6d6"/>
<stop offset="0.75" stop-color="#74add1"/>
<stop offset="0.78" stop-color="#6ba2cb"/>
<stop offset="0.8" stop-color="#6197c5"/>
<stop offset="0.82" stop-color="#588bc0"/>
<stop offset="0.85" stop-color="#4e80ba"/>
<stop offset="0.88" stop-color="#4575b4"/>
<stop offset="0.9" stop-color="#4168ae"/>
<stop offset="0.93" stop-color="#3d5ca8"/>
<stop offset="0.95" stop-color="#394fa1"/>
<stop offset="0.97" stop-color="#35439b"/>
<stop offset="1" stop-color="#313695"/>
</linearGradient>
<rect x="548.5" y="714.8" width="9.7" height="148" fill="url(#lgD)"/>
<g font-family='"Liberation Sans", sans-serif' font-size="11.8" fill="#000" stroke="#000" stroke-width="0.24">
<text x="562.34" y="719.49">1</text>
<text x="562.34" y="756.49">0.5</text>
<text x="562.34" y="793.49">0</text>
<text x="562.34" y="830.49">−0.5</text>
<text x="562.34" y="867.19">−1</text>
</g>
<text x="295.9" y="1242.2" font-family='"Liberation Serif", serif' font-weight="bold" font-size="34.5" text-anchor="middle" fill="#000">(D)</text>
<g shape-rendering="crispEdges">
<rect x="696.8" y="711.6" width="40.06" height="30.82" fill="#fdae61"/>
<rect x="736.56" y="711.6" width="40.06" height="30.82" fill="#f8874f"/>
<rect x="776.32" y="711.6" width="40.06" height="30.82" fill="#f7844e"/>
<rect x="816.08" y="711.6" width="40.06" height="30.82" fill="#fdb86a"/>
<rect x="855.84" y="711.6" width="40.06" height="30.82" fill="#fdae61"/>
<rect x="895.6" y="711.6" width="40.06" height="30.82" fill="#fecc7d"/>
<rect x="935.37" y="711.6" width="40.06" height="30.82" fill="#fdb86a"/>
<rect x="975.13" y="711.6" width="40.06" height="30.82" fill="#fdb86a"/>
<rect x="1014.89" y="711.6" width="40.06" height="30.82" fill="#bcdad7"/>
<rect x="1054.65" y="711.6" width="40.06" height="30.82" fill="#fed687"/>
<rect x="1094.41" y="711.6" width="40.06" height="30.82" fill="#8abfdb"/>
<rect x="1134.17" y="711.6" width="40.06" height="30.82" fill="#7fb6d6"/>
<rect x="1173.93" y="711.6" width="40.06" height="30.82" fill="#74add1"/>
<rect x="1213.69" y="711.6" width="40.06" height="30.82" fill="#74add1"/>
<rect x="1253.45" y="711.6" width="40.06" height="30.82" fill="#ddddb4"/>
<rect x="1293.21" y="711.6" width="40.06" height="30.82" fill="#bcdad7"/>
<rect x="1332.97" y="711.6" width="40.06" height="30.82" fill="#abd9e9"/>
<rect x="1372.73" y="711.6" width="40.06" height="30.82" fill="#fdae61"/>
<rect x="1412.5" y="711.6" width="40.06" height="30.82" fill="#fecc7d"/>
<rect x="1452.26" y="711.6" width="40.06" height="30.82" fill="#ddddb4"/>
<rect x="1492.02" y="711.6" width="40.06" height="30.82" fill="#f8874f"/>
<rect x="1531.78" y="711.6" width="40.06" height="30.82" fill="#eddfa2"/>
<rect x="1571.54" y="711.6" width="40.06" height="30.82" fill="#fed687"/>
<rect x="696.8" y="742.12" width="40.06" height="30.82" fill="#fdb86a"/>
<rect x="736.56" y="742.12" width="40.06" height="30.82" fill="#f99455"/>
<rect x="776.32" y="742.12" width="40.06" height="30.82" fill="#f99455"/>
<rect x="816.08" y="742.12" width="40.06" height="30.82" fill="#fba15b"/>
<rect x="855.84" y="742.12" width="40.06" height="30.82" fill="#f99455"/>
<rect x="895.6" y="742.12" width="40.06" height="30.82" fill="#fdc274"/>
<rect x="935.37" y="742.12" width="40.06" height="30.82" fill="#fdb86a"/>
<rect x="975.13" y="742.12" width="40.06" height="30.82" fill="#fdb86a"/>
<rect x="1014.89" y="742.12" width="40.06" height="30.82" fill="#ccdcc5"/>
<rect x="1054.65" y="742.12" width="40.06" height="30.82" fill="#fecc7d"/>
<rect x="1094.41" y="742.12" width="40.06" height="30.82" fill="#7fb6d6"/>
<rect x="1134.17" y="742.12" width="40.06" height="30.82" fill="#7fb6d6"/>
<rect x="1173.93" y="742.12" width="40.06" height="30.82" fill="#7fb6d6"/>
<rect x="1213.69" y="742.12" width="40.06" height="30.82" fill="#a0d0e4"/>
<rect x="1253.45" y="742.12" width="40.06" height="30.82" fill="#ddddb4"/>
<rect x="1293.21" y="742.12" width="40.06" height="30.82" fill="#a0d0e4"/>
<rect x="1332.97" y="742.12" width="40.06" height="30.82" fill="#95c7df"/>
<rect x="1372.73" y="742.12" width="40.06" height="30.82" fill="#fdb86a"/>
<rect x="1412.5" y="742.12" width="40.06" height="30.82" fill="#f4df9b"/>
<rect x="1452.26" y="742.12" width="40.06" height="30.82" fill="#7fb6d6"/>
<rect x="1492.02" y="742.12" width="40.06" height="30.82" fill="#eddfa2"/>
<rect x="1531.78" y="742.12" width="40.06" height="30.82" fill="#eddfa2"/>
<rect x="1571.54" y="742.12" width="40.06" height="30.82" fill="#ddddb4"/>
<rect x="696.8" y="772.64" width="40.06" height="30.82" fill="#fecc7d"/>
<rect x="736.56" y="772.64" width="40.06" height="30.82" fill="#f67a49"/>
<rect x="776.32" y="772.64" width="40.06" height="30.82" fill="#fdae61"/>
<rect x="816.08" y="772.64" width="40.06" height="30.82" fill="#f99455"/>
<rect x="855.84" y="772.64" width="40.06" height="30.82" fill="#f67a49"/>
<rect x="895.6" y="772.64" width="40.06" height="30.82" fill="#fdae61"/>
<rect x="935.37" y="772.64" width="40.06" height="30.82" fill="#fdae61"/>
<rect x="975.13" y="772.64" width="40.06" height="30.82" fill="#fba15b"/>
<rect x="1014.89" y="772.64" width="40.06" height="30.82" fill="#ee613d"/>
<rect x="1054.65" y="772.64" width="40.06" height="30.82" fill="#f46d43"/>
<rect x="1094.41" y="772.64" width="40.06" height="30.82" fill="#f8874f"/>
<rect x="1134.17" y="772.64" width="40.06" height="30.82" fill="#fecc7d"/>
<rect x="1173.93" y="772.64" width="40.06" height="30.82" fill="#bcdad7"/>
<rect x="1213.69" y="772.64" width="40.06" height="30.82" fill="#95c7df"/>
<rect x="1253.45" y="772.64" width="40.06" height="30.82" fill="#fed687"/>
<rect x="1293.21" y="772.64" width="40.06" height="30.82" fill="#ccdcc5"/>
<rect x="1332.97" y="772.64" width="40.06" height="30.82" fill="#ddddb4"/>
<rect x="1372.73" y="772.64" width="40.06" height="30.82" fill="#5082bb"/>
<rect x="1412.5" y="772.64" width="40.06" height="30.82" fill="#6ba2cb"/>
<rect x="1452.26" y="772.64" width="40.06" height="30.82" fill="#abd9e9"/>
<rect x="1492.02" y="772.64" width="40.06" height="30.82" fill="#7fb6d6"/>
<rect x="1531.78" y="772.64" width="40.06" height="30.82" fill="#5082bb"/>
<rect x="1571.54" y="772.64" width="40.06" height="30.82" fill="#6197c5"/>
<rect x="696.8" y="803.15" width="40.06" height="30.82" fill="#f8874f"/>
<rect x="736.56" y="803.15" width="40.06" height="30.82" fill="#e85538"/>
<rect x="776.32" y="803.15" width="40.06" height="30.82" fill="#f46d43"/>
<rect x="816.08" y="803.15" width="40.06" height="30.82" fill="#e34832"/>
<rect x="855.84" y="803.15" width="40.06" height="30.82" fill="#da372a"/>
<rect x="895.6" y="803.15" width="40.06" height="30.82" fill="#f46d43"/>
<rect x="935.37" y="803.15" width="40.06" height="30.82" fill="#e85538"/>
<rect x="975.13" y="803.15" width="40.06" height="30.82" fill="#e85538"/>
<rect x="1014.89" y="803.15" width="40.06" height="30.82" fill="#f67a49"/>
<rect x="1054.65" y="803.15" width="40.06" height="30.82" fill="#fdae61"/>
<rect x="1094.41" y="803.15" width="40.06" height="30.82" fill="#fba15b"/>
<rect x="1134.17" y="803.15" width="40.06" height="30.82" fill="#ddddb4"/>
<rect x="1173.93" y="803.15" width="40.06" height="30.82" fill="#95c7df"/>
<rect x="1213.69" y="803.15" width="40.06" height="30.82" fill="#74add1"/>
<rect x="1253.45" y="803.15" width="40.06" height="30.82" fill="#8abfdb"/>
<rect x="1293.21" y="803.15" width="40.06" height="30.82" fill="#6ba2cb"/>
<rect x="1332.97" y="803.15" width="40.06" height="30.82" fill="#7fb6d6"/>
<rect x="1372.73" y="803.15" width="40.06" height="30.82" fill="#6197c5"/>
<rect x="1412.5" y="803.15" width="40.06" height="30.82" fill="#6ba2cb"/>
<rect x="1452.26" y="803.15" width="40.06" height="30.82" fill="#eddfa2"/>
<rect x="1492.02" y="803.15" width="40.06" height="30.82" fill="#7fb6d6"/>
<rect x="1531.78" y="803.15" width="40.06" height="30.82" fill="#7fb6d6"/>
<rect x="1571.54" y="803.15" width="40.06" height="30.82" fill="#7fb6d6"/>
<rect x="696.8" y="833.67" width="40.06" height="30.82" fill="#ee613d"/>
<rect x="736.56" y="833.67" width="40.06" height="30.82" fill="#e85538"/>
<rect x="776.32" y="833.67" width="40.06" height="30.82" fill="#f46d43"/>
<rect x="816.08" y="833.67" width="40.06" height="30.82" fill="#e34832"/>
<rect x="855.84" y="833.67" width="40.06" height="30.82" fill="#e34832"/>
<rect x="895.6" y="833.67" width="40.06" height="30.82" fill="#da372a"/>
<rect x="935.37" y="833.67" width="40.06" height="30.82" fill="#e85538"/>
<rect x="975.13" y="833.67" width="40.06" height="30.82" fill="#e85538"/>
<rect x="1014.89" y="833.67" width="40.06" height="30.82" fill="#f46d43"/>
<rect x="1054.65" y="833.67" width="40.06" height="30.82" fill="#fdae61"/>
<rect x="1094.41" y="833.67" width="40.06" height="30.82" fill="#f99455"/>
<rect x="1134.17" y="833.67" width="40.06" height="30.82" fill="#fed687"/>
<rect x="1173.93" y="833.67" width="40.06" height="30.82" fill="#7fb6d6"/>
<rect x="1213.69" y="833.67" width="40.06" height="30.82" fill="#74add1"/>
<rect x="1253.45" y="833.67" width="40.06" height="30.82" fill="#7fb6d6"/>
<rect x="1293.21" y="833.67" width="40.06" height="30.82" fill="#6ba2cb"/>
<rect x="1332.97" y="833.67" width="40.06" height="30.82" fill="#74add1"/>
<rect x="1372.73" y="833.67" width="40.06" height="30.82" fill="#6ba2cb"/>
<rect x="1412.5" y="833.67" width="40.06" height="30.82" fill="#7fb6d6"/>
<rect x="1452.26" y="833.67" width="40.06" height="30.82" fill="#eddfa2"/>
<rect x="1492.02" y="833.67" width="40.06" height="30.82" fill="#8abfdb"/>
<rect x="1531.78" y="833.67" width="40.06" height="30.82" fill="#8abfdb"/>
<rect x="1571.54" y="833.67" width="40.06" height="30.82" fill="#95c7df"/>
<rect x="696.8" y="864.19" width="40.06" height="30.82" fill="#fdb86a"/>
<rect x="736.56" y="864.19" width="40.06" height="30.82" fill="#a0d0e4"/>
<rect x="776.32" y="864.19" width="40.06" height="30.82" fill="#ccdcc5"/>
<rect x="816.08" y="864.19" width="40.06" height="30.82" fill="#ccdcc5"/>
<rect x="855.84" y="864.19" width="40.06" height="30.82" fill="#a0d0e4"/>
<rect x="895.6" y="864.19" width="40.06" height="30.82" fill="#eddfa2"/>
<rect x="935.37" y="864.19" width="40.06" height="30.82" fill="#eddfa2"/>
<rect x="975.13" y="864.19" width="40.06" height="30.82" fill="#f4df9b"/>
<rect x="1014.89" y="864.19" width="40.06" height="30.82" fill="#7fb6d6"/>
<rect x="1054.65" y="864.19" width="40.06" height="30.82" fill="#6ba2cb"/>
<rect x="1094.41" y="864.19" width="40.06" height="30.82" fill="#bcdad7"/>
<rect x="1134.17" y="864.19" width="40.06" height="30.82" fill="#fed687"/>
<rect x="1173.93" y="864.19" width="40.06" height="30.82" fill="#fed687"/>
<rect x="1213.69" y="864.19" width="40.06" height="30.82" fill="#fdc274"/>
<rect x="1253.45" y="864.19" width="40.06" height="30.82" fill="#95c7df"/>
<rect x="1293.21" y="864.19" width="40.06" height="30.82" fill="#eddfa2"/>
<rect x="1332.97" y="864.19" width="40.06" height="30.82" fill="#ccdcc5"/>
<rect x="1372.73" y="864.19" width="40.06" height="30.82" fill="#f99455"/>
<rect x="1412.5" y="864.19" width="40.06" height="30.82" fill="#f8874f"/>
<rect x="1452.26" y="864.19" width="40.06" height="30.82" fill="#f99455"/>
<rect x="1492.02" y="864.19" width="40.06" height="30.82" fill="#ee613d"/>
<rect x="1531.78" y="864.19" width="40.06" height="30.82" fill="#ee613d"/>
<rect x="1571.54" y="864.19" width="40.06" height="30.82" fill="#e85538"/>
<rect x="696.8" y="894.71" width="40.06" height="30.82" fill="#fecc7d"/>
<rect x="736.56" y="894.71" width="40.06" height="30.82" fill="#8abfdb"/>
<rect x="776.32" y="894.71" width="40.06" height="30.82" fill="#ccdcc5"/>
<rect x="816.08" y="894.71" width="40.06" height="30.82" fill="#a0d0e4"/>
<rect x="855.84" y="894.71" width="40.06" height="30.82" fill="#95c7df"/>
<rect x="895.6" y="894.71" width="40.06" height="30.82" fill="#bcdad7"/>
<rect x="935.37" y="894.71" width="40.06" height="30.82" fill="#eddfa2"/>
<rect x="975.13" y="894.71" width="40.06" height="30.82" fill="#eddfa2"/>
<rect x="1014.89" y="894.71" width="40.06" height="30.82" fill="#426baf"/>
<rect x="1054.65" y="894.71" width="40.06" height="30.82" fill="#4777b5"/>
<rect x="1094.41" y="894.71" width="40.06" height="30.82" fill="#74add1"/>
<rect x="1134.17" y="894.71" width="40.06" height="30.82" fill="#ccdcc5"/>
<rect x="1173.93" y="894.71" width="40.06" height="30.82" fill="#fdc274"/>
<rect x="1213.69" y="894.71" width="40.06" height="30.82" fill="#fdae61"/>
<rect x="1253.45" y="894.71" width="40.06" height="30.82" fill="#8abfdb"/>
<rect x="1293.21" y="894.71" width="40.06" height="30.82" fill="#fee090"/>
<rect x="1332.97" y="894.71" width="40.06" height="30.82" fill="#a0d0e4"/>
<rect x="1372.73" y="894.71" width="40.06" height="30.82" fill="#f99455"/>
<rect x="1412.5" y="894.71" width="40.06" height="30.82" fill="#f8874f"/>
<rect x="1452.26" y="894.71" width="40.06" height="30.82" fill="#dd3c2d"/>
<rect x="1492.02" y="894.71" width="40.06" height="30.82" fill="#e34832"/>
<rect x="1531.78" y="894.71" width="40.06" height="30.82" fill="#c51f27"/>
<rect x="1571.54" y="894.71" width="40.06" height="30.82" fill="#c51f27"/>
<rect x="696.8" y="925.23" width="40.06" height="30.82" fill="#fed687"/>
<rect x="736.56" y="925.23" width="40.06" height="30.82" fill="#8abfdb"/>
<rect x="776.32" y="925.23" width="40.06" height="30.82" fill="#bcdad7"/>
<rect x="816.08" y="925.23" width="40.06" height="30.82" fill="#95c7df"/>
<rect x="855.84" y="925.23" width="40.06" height="30.82" fill="#8abfdb"/>
<rect x="895.6" y="925.23" width="40.06" height="30.82" fill="#a0d0e4"/>
<rect x="935.37" y="925.23" width="40.06" height="30.82" fill="#ccdcc5"/>
<rect x="975.13" y="925.23" width="40.06" height="30.82" fill="#ccdcc5"/>
<rect x="1014.89" y="925.23" width="40.06" height="30.82" fill="#426baf"/>
<rect x="1054.65" y="925.23" width="40.06" height="30.82" fill="#4777b5"/>
<rect x="1094.41" y="925.23" width="40.06" height="30.82" fill="#74add1"/>
<rect x="1134.17" y="925.23" width="40.06" height="30.82" fill="#ddddb4"/>
<rect x="1173.93" y="925.23" width="40.06" height="30.82" fill="#fdc274"/>
<rect x="1213.69" y="925.23" width="40.06" height="30.82" fill="#fdae61"/>
<rect x="1253.45" y="925.23" width="40.06" height="30.82" fill="#95c7df"/>
<rect x="1293.21" y="925.23" width="40.06" height="30.82" fill="#fed687"/>
<rect x="1332.97" y="925.23" width="40.06" height="30.82" fill="#bcdad7"/>
<rect x="1372.73" y="925.23" width="40.06" height="30.82" fill="#f99455"/>
<rect x="1412.5" y="925.23" width="40.06" height="30.82" fill="#f67a49"/>
<rect x="1452.26" y="925.23" width="40.06" height="30.82" fill="#dd3c2d"/>
<rect x="1492.02" y="925.23" width="40.06" height="30.82" fill="#e34832"/>
<rect x="1531.78" y="925.23" width="40.06" height="30.82" fill="#c51f27"/>
<rect x="1571.54" y="925.23" width="40.06" height="30.82" fill="#c51f27"/>
<rect x="696.8" y="955.75" width="40.06" height="30.82" fill="#74add1"/>
<rect x="736.56" y="955.75" width="40.06" height="30.82" fill="#a0d0e4"/>
<rect x="776.32" y="955.75" width="40.06" height="30.82" fill="#a0d0e4"/>
<rect x="816.08" y="955.75" width="40.06" height="30.82" fill="#8abfdb"/>
<rect x="855.84" y="955.75" width="40.06" height="30.82" fill="#a0d0e4"/>
<rect x="895.6" y="955.75" width="40.06" height="30.82" fill="#a0d0e4"/>
<rect x="935.37" y="955.75" width="40.06" height="30.82" fill="#8abfdb"/>
<rect x="975.13" y="955.75" width="40.06" height="30.82" fill="#7fb6d6"/>
<rect x="1014.89" y="955.75" width="40.06" height="30.82" fill="#eddfa2"/>
<rect x="1054.65" y="955.75" width="40.06" height="30.82" fill="#fdb86a"/>
<rect x="1094.41" y="955.75" width="40.06" height="30.82" fill="#ddddb4"/>
<rect x="1134.17" y="955.75" width="40.06" height="30.82" fill="#fed687"/>
<rect x="1173.93" y="955.75" width="40.06" height="30.82" fill="#fdb86a"/>
<rect x="1213.69" y="955.75" width="40.06" height="30.82" fill="#f99455"/>
<rect x="1253.45" y="955.75" width="40.06" height="30.82" fill="#f99455"/>
<rect x="1293.21" y="955.75" width="40.06" height="30.82" fill="#f99455"/>
<rect x="1332.97" y="955.75" width="40.06" height="30.82" fill="#f99455"/>
<rect x="1372.73" y="955.75" width="40.06" height="30.82" fill="#f99455"/>
<rect x="1412.5" y="955.75" width="40.06" height="30.82" fill="#eddfa2"/>
<rect x="1452.26" y="955.75" width="40.06" height="30.82" fill="#95c7df"/>
<rect x="1492.02" y="955.75" width="40.06" height="30.82" fill="#eddfa2"/>
<rect x="1531.78" y="955.75" width="40.06" height="30.82" fill="#fecc7d"/>
<rect x="1571.54" y="955.75" width="40.06" height="30.82" fill="#fed687"/>
<rect x="696.8" y="986.26" width="40.06" height="30.82" fill="#ccdcc5"/>
<rect x="736.56" y="986.26" width="40.06" height="30.82" fill="#eddfa2"/>
<rect x="776.32" y="986.26" width="40.06" height="30.82" fill="#ddddb4"/>
<rect x="816.08" y="986.26" width="40.06" height="30.82" fill="#fecc7d"/>
<rect x="855.84" y="986.26" width="40.06" height="30.82" fill="#fdae61"/>
<rect x="895.6" y="986.26" width="40.06" height="30.82" fill="#eddfa2"/>
<rect x="935.37" y="986.26" width="40.06" height="30.82" fill="#fed687"/>
<rect x="975.13" y="986.26" width="40.06" height="30.82" fill="#fed687"/>
<rect x="1014.89" y="986.26" width="40.06" height="30.82" fill="#fdb86a"/>
<rect x="1054.65" y="986.26" width="40.06" height="30.82" fill="#fdb86a"/>
<rect x="1094.41" y="986.26" width="40.06" height="30.82" fill="#fdb86a"/>
<rect x="1134.17" y="986.26" width="40.06" height="30.82" fill="#fdc274"/>
<rect x="1173.93" y="986.26" width="40.06" height="30.82" fill="#f99455"/>
<rect x="1213.69" y="986.26" width="40.06" height="30.82" fill="#fed687"/>
<rect x="1253.45" y="986.26" width="40.06" height="30.82" fill="#fed687"/>
<rect x="1293.21" y="986.26" width="40.06" height="30.82" fill="#fbe094"/>
<rect x="1332.97" y="986.26" width="40.06" height="30.82" fill="#fed687"/>
<rect x="1372.73" y="986.26" width="40.06" height="30.82" fill="#6197c5"/>
<rect x="1412.5" y="986.26" width="40.06" height="30.82" fill="#588bc0"/>
<rect x="1452.26" y="986.26" width="40.06" height="30.82" fill="#f4df9b"/>
<rect x="1492.02" y="986.26" width="40.06" height="30.82" fill="#95c7df"/>
<rect x="1531.78" y="986.26" width="40.06" height="30.82" fill="#95c7df"/>
<rect x="1571.54" y="986.26" width="40.06" height="30.82" fill="#bcdad7"/>
<rect x="696.8" y="1016.78" width="40.06" height="30.82" fill="#fed687"/>
<rect x="736.56" y="1016.78" width="40.06" height="30.82" fill="#eddfa2"/>
<rect x="776.32" y="1016.78" width="40.06" height="30.82" fill="#ccdcc5"/>
<rect x="816.08" y="1016.78" width="40.06" height="30.82" fill="#fee090"/>
<rect x="855.84" y="1016.78" width="40.06" height="30.82" fill="#fdc274"/>
<rect x="895.6" y="1016.78" width="40.06" height="30.82" fill="#fdae61"/>
<rect x="935.37" y="1016.78" width="40.06" height="30.82" fill="#fee090"/>
<rect x="975.13" y="1016.78" width="40.06" height="30.82" fill="#eddfa2"/>
<rect x="1014.89" y="1016.78" width="40.06" height="30.82" fill="#fdb86a"/>
<rect x="1054.65" y="1016.78" width="40.06" height="30.82" fill="#f99455"/>
<rect x="1094.41" y="1016.78" width="40.06" height="30.82" fill="#fecc7d"/>
<rect x="1134.17" y="1016.78" width="40.06" height="30.82" fill="#fdc274"/>
<rect x="1173.93" y="1016.78" width="40.06" height="30.82" fill="#f4df9b"/>
<rect x="1213.69" y="1016.78" width="40.06" height="30.82" fill="#fed687"/>
<rect x="1253.45" y="1016.78" width="40.06" height="30.82" fill="#fdb86a"/>
<rect x="1293.21" y="1016.78" width="40.06" height="30.82" fill="#eddfa2"/>
<rect x="1332.97" y="1016.78" width="40.06" height="30.82" fill="#ccdcc5"/>
<rect x="1372.73" y="1016.78" width="40.06" height="30.82" fill="#8abfdb"/>
<rect x="1412.5" y="1016.78" width="40.06" height="30.82" fill="#588bc0"/>
<rect x="1452.26" y="1016.78" width="40.06" height="30.82" fill="#a0d0e4"/>
<rect x="1492.02" y="1016.78" width="40.06" height="30.82" fill="#95c7df"/>
<rect x="1531.78" y="1016.78" width="40.06" height="30.82" fill="#bcdad7"/>
<rect x="1571.54" y="1016.78" width="40.06" height="30.82" fill="#ccdcc5"/>
</g>
<path d="M696.8 711.6H1611.3M696.8 742.12H1611.3M696.8 772.64H1611.3M696.8 803.15H1611.3M696.8 833.67H1611.3M696.8 864.19H1611.3M696.8 894.71H1611.3M696.8 925.23H1611.3M696.8 955.75H1611.3M696.8 986.26H1611.3M696.8 1016.78H1611.3M696.8 1047.3H1611.3M696.8 711.6V1047.3M736.56 711.6V1047.3M776.32 711.6V1047.3M816.08 711.6V1047.3M855.84 711.6V1047.3M895.6 711.6V1047.3M935.37 711.6V1047.3M975.13 711.6V1047.3M1014.89 711.6V1047.3M1054.65 711.6V1047.3M1094.41 711.6V1047.3M1134.17 711.6V1047.3M1173.93 711.6V1047.3M1213.69 711.6V1047.3M1253.45 711.6V1047.3M1293.21 711.6V1047.3M1332.97 711.6V1047.3M1372.73 711.6V1047.3M1412.5 711.6V1047.3M1452.26 711.6V1047.3M1492.02 711.6V1047.3M1531.78 711.6V1047.3M1571.54 711.6V1047.3M1611.3 711.6V1047.3" fill="none" stroke="#9a9a9a" stroke-width="1"/>
<g fill="#fff" stroke="#fff" stroke-width="0.3" font-family='"Liberation Sans", sans-serif' font-size="13" letter-spacing="0.84" text-anchor="middle" stroke-linejoin="round" text-rendering="geometricPrecision">
<text x="1035.19" y="791.26">*</text>
<text x="1393.04" y="791.26">**</text>
<text x="1432.8" y="791.26">*</text>
<text x="1552.08" y="791.26">*</text>
<text x="1591.84" y="791.26">*</text>
<text x="756.86" y="821.78">*</text>
<text x="836.38" y="821.78">*</text>
<text x="876.15" y="821.78">**</text>
<text x="955.67" y="821.78">*</text>
<text x="995.43" y="821.78">*</text>
<text x="1313.51" y="821.78">*</text>
<text x="1393.04" y="821.78">*</text>
<text x="1432.8" y="821.78">*</text>
<text x="717.1" y="852.29">*</text>
<text x="756.86" y="852.29">*</text>
<text x="836.38" y="852.29">*</text>
<text x="876.15" y="852.29">*</text>
<text x="915.91" y="852.29">**</text>
<text x="955.67" y="852.29">*</text>
<text x="995.43" y="852.29">*</text>
<text x="1313.51" y="852.29">*</text>
<text x="1393.04" y="852.29">*</text>
<text x="1074.95" y="882.81">*</text>
<text x="1512.32" y="882.81">*</text>
<text x="1552.08" y="882.81">*</text>
<text x="1591.84" y="882.81">*</text>
<text x="1035.19" y="913.33">**</text>
<text x="1074.95" y="913.33">**</text>
<text x="1472.56" y="913.33">**</text>
<text x="1512.32" y="913.33">*</text>
<text x="1552.08" y="913.33">**</text>
<text x="1591.84" y="913.33">**</text>
<text x="1035.19" y="943.85">**</text>
<text x="1074.95" y="943.85">**</text>
<text x="1472.56" y="943.85">**</text>
<text x="1512.32" y="943.85">**</text>
<text x="1552.08" y="943.85">**</text>
<text x="1591.84" y="943.85">**</text>
<text x="1393.04" y="1004.89">*</text>
<text x="1432.8" y="1004.89">**</text>
<text x="1432.8" y="1035.4">*</text>
</g>
<path d="M756.44 711.6V702.1H796.2V711.6M835.96 711.6V704H875.72V711.6M955.25 711.6V709.4H995.01V711.6M915.48 711.6V700.2H975.13V709.4M855.84 704V696.7H945.31V700.2M776.32 702.1V694H900.57V696.7M716.68 711.6V685.8H838.45V694M1034.77 711.6V697.5H1074.53V711.6M1114.29 711.6V691H1154.05V711.6M1054.65 697.5V676.9H1134.17V691M777.56 685.8V670.1H1094.41V676.9M1193.81 711.6V699.4H1233.57V711.6M1313.09 711.6V702.1H1352.85V711.6M1273.33 711.6V694.5H1332.97V702.1M1213.69 699.4V684.5H1303.15V694.5M1392.62 711.6V697.2H1432.38V711.6M1551.66 711.6V706.7H1591.42V711.6M1511.9 711.6V697.2H1571.54V706.7M1472.14 711.6V690.4H1541.72V697.2M1412.5 697.2V675.5H1506.93V690.4M1258.42 684.5V660.1H1459.71V675.5M935.99 670.1V634.9H1359.07V660.1" fill="none" stroke="#111" stroke-width="1.35" stroke-linejoin="miter"/>
<path d="M696.8 726.86H684V757.38H696.8M696.8 818.41H690.1V848.93H696.8M696.8 787.9H673.5V833.67H690.1M684 742.12H655.7V810.78H673.5M696.8 909.97H692.4V940.49H696.8M696.8 879.45H680.1V925.23H692.4M696.8 1001.52H683.5V1032.04H696.8M696.8 971H661.2V1016.78H683.5M680.1 902.34H636.8V993.89H661.2M655.7 776.45H620.5V948.12H636.8" fill="none" stroke="#111" stroke-width="1.35" stroke-linejoin="miter"/>
<g font-family='"Liberation Sans", sans-serif' font-size="14.7" fill="#000" stroke="#000" stroke-width="0.29">
<text x="1616.2" y="732.33">Nonanoic acid</text>
<text x="1616.2" y="762.85">Octanoic acid</text>
<text x="1616.2" y="793.36">Decanoic acid</text>
<text x="1616.2" y="823.88">Acetic acid</text>
<text x="1616.2" y="854.4">Propionic acid</text>
<text x="1616.2" y="884.92">Valeric acid</text>
<text x="1616.2" y="915.44">Isobutyric acid</text>
<text x="1616.2" y="945.95">Isovaleric acid</text>
<text x="1616.2" y="976.47">Heptanoic acid</text>
<text x="1616.2" y="1006.99">Butyric acid</text>
<text x="1616.2" y="1037.51">Hexanoic acid</text>
</g>
<g font-family='"Liberation Sans", sans-serif' font-size="17.5" fill="#000" stroke="#000" stroke-width="0.35" text-anchor="end">
<text transform="translate(722.46 1052.2) rotate(-90)">g__Bacteroides</text>
<text transform="translate(762.22 1052.2) rotate(-90)">g__Duncaniella</text>
<text transform="translate(801.98 1052.2) rotate(-90)">g__Porphyromonas</text>
<text transform="translate(841.74 1052.2) rotate(-90)">g__Barnesiella</text>
<text transform="translate(881.5 1052.2) rotate(-90)">g__Prevotella</text>
<text transform="translate(921.26 1052.2) rotate(-90)">g__Ligilactobacillus</text>
<text transform="translate(961.02 1052.2) rotate(-90)">g__Muribaculum</text>
<text transform="translate(1000.78 1052.2) rotate(-90)">g__Phocaeicola</text>
<text transform="translate(1040.54 1052.2) rotate(-90)">g__Butyrivibrio</text>
<text transform="translate(1080.3 1052.2) rotate(-90)">g__Clostridium</text>
<text transform="translate(1120.06 1052.2) rotate(-90)">f__Lachnospiraceae;unclassified</text>
<text transform="translate(1159.83 1052.2) rotate(-90)">g__Roseburia</text>
<text transform="translate(1199.59 1052.2) rotate(-90)">g__Bilophila</text>
<text transform="translate(1239.35 1052.2) rotate(-90)">g__Mucispirillum</text>
<text transform="translate(1279.11 1052.2) rotate(-90)">g__Ruminococcus</text>
<text transform="translate(1318.87 1052.2) rotate(-90)">g__Flavonifractor</text>
<text transform="translate(1358.63 1052.2) rotate(-90)">g__Oscillibacter</text>
<text transform="translate(1398.39 1052.2) rotate(-90)">g__Chlamydia</text>
<text transform="translate(1438.15 1052.2) rotate(-90)">g__Helicobacter</text>
<text transform="translate(1477.91 1052.2) rotate(-90)">g__Desulfovibrio</text>
<text transform="translate(1517.67 1052.2) rotate(-90)">g__Alistipes</text>
<text transform="translate(1557.43 1052.2) rotate(-90)">g__Faecalibaculum</text>
<text transform="translate(1597.19 1052.2) rotate(-90)">g__Parasutterella</text>
</g>
<linearGradient id="lgE" x1="0" y1="0" x2="0" y2="1">
<stop offset="0" stop-color="#a50026"/>
<stop offset="0.03" stop-color="#af0a26"/>
<stop offset="0.05" stop-color="#b91326"/>
<stop offset="0.07" stop-color="#c31d27"/>
<stop offset="0.1" stop-color="#cd2627"/>
<stop offset="0.12" stop-color="#d73027"/>
<stop offset="0.15" stop-color="#dd3c2d"/>
<stop offset="0.17" stop-color="#e34832"/>
<stop offset="0.2" stop-color="#e85538"/>
<stop offset="0.23" stop-color="#ee613d"/>
<stop offset="0.25" stop-color="#f46d43"/>
<stop offset="0.28" stop-color="#f67a49"/>
<stop offset="0.3" stop-color="#f8874f"/>
<stop offset="0.33" stop-color="#f99455"/>
<stop offset="0.35" stop-color="#fba15b"/>
<stop offset="0.38" stop-color="#fdae61"/>
<stop offset="0.4" stop-color="#fdb86a"/>
<stop offset="0.42" stop-color="#fdc274"/>
<stop offset="0.45" stop-color="#fecc7d"/>
<stop offset="0.47" stop-color="#fed687"/>
<stop offset="0.5" stop-color="#fee090"/>
<stop offset="0.53" stop-color="#eddfa2"/>
<stop offset="0.55" stop-color="#ddddb4"/>
<stop offset="0.57" stop-color="#ccdcc5"/>
<stop offset="0.6" stop-color="#bcdad7"/>
<stop offset="0.62" stop-color="#abd9e9"/>
<stop offset="0.65" stop-color="#a0d0e4"/>
<stop offset="0.68" stop-color="#95c7df"/>
<stop offset="0.7" stop-color="#8abfdb"/>
<stop offset="0.72" stop-color="#7fb6d6"/>
<stop offset="0.75" stop-color="#74add1"/>
<stop offset="0.78" stop-color="#6ba2cb"/>
<stop offset="0.8" stop-color="#6197c5"/>
<stop offset="0.82" stop-color="#588bc0"/>
<stop offset="0.85" stop-color="#4e80ba"/>
<stop offset="0.88" stop-color="#4575b4"/>
<stop offset="0.9" stop-color="#4168ae"/>
<stop offset="0.93" stop-color="#3d5ca8"/>
<stop offset="0.95" stop-color="#394fa1"/>
<stop offset="0.97" stop-color="#35439b"/>
<stop offset="1" stop-color="#313695"/>
</linearGradient>
<rect x="1723.4" y="712.1" width="14.5" height="218.2" fill="url(#lgE)"/>
<g font-family='"Liberation Sans", sans-serif' font-size="14.7" fill="#000" stroke="#000" stroke-width="0.29">
<text x="1744.4" y="716.72">1</text>
<text x="1744.4" y="771.82">0.5</text>
<text x="1744.4" y="826.22">0</text>
<text x="1744.4" y="880.92">−0.5</text>
<text x="1744.4" y="935.62">−1</text>
</g>
<text x="1197" y="1361" font-family='"Liberation Serif", serif' font-weight="bold" font-size="34.5" text-anchor="middle" fill="#000">(E)</text>
</svg>
</body>
</html>
